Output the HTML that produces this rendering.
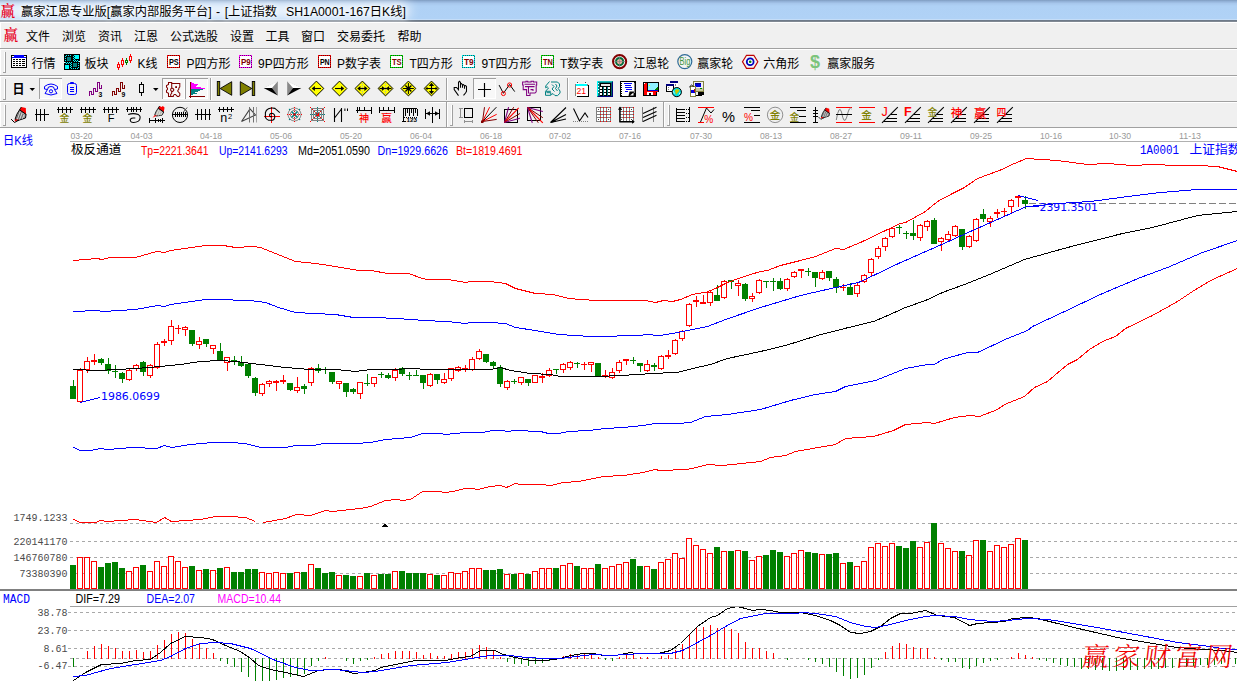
<!DOCTYPE html>
<html lang="zh-CN"><head><meta charset="utf-8"><title>赢家江恩专业版</title>
<style>
html,body{margin:0;padding:0;background:#fff}
body{width:1237px;height:681px;overflow:hidden;position:relative;font-family:"Liberation Sans","Noto Sans CJK SC",sans-serif;font-size:12px;color:#000}
#title{position:absolute;left:0;top:0;width:1237px;height:22px;overflow:hidden;background:linear-gradient(to bottom,#7f9cc0 0,#93b2d8 1.5px,#a7c7ec 3.5px,#afd1f5 6px,#b0d2f6 18.5px,#cfe3f8 20px,#5a6573 20.6px,#56616f 21.4px,#fff 21.8px,#fff 22px)}
#title .glow{position:absolute;left:-30px;top:2px;width:440px;height:17px;background:rgba(255,255,255,.78);filter:blur(6px);border-radius:9px}
#title .lg{position:absolute;left:0.5px;top:2.5px;font:14.5px/17px "Liberation Serif","Noto Serif CJK SC",serif;color:#e8001c;font-weight:600}
#title .tx{position:absolute;left:21px;top:0.6px;line-height:22px;font-size:12.25px;word-spacing:1.1px;white-space:pre;text-shadow:0 0 4px #fff,0 0 6px #fff}
#bars{position:absolute;left:0;top:23px;border-top:0;width:1237px;height:105px;background:#f0f0f0;border-left:1px solid #fff;box-sizing:border-box}
.sep{position:absolute;left:0;width:1237px;height:1px;background:#a0a0a0;border-bottom:1px solid #fff}
.t{position:absolute;white-space:nowrap;line-height:16px;height:16px}
#menu .lg{position:absolute;left:3.5px;top:26.5px;font:14.5px/17px "Liberation Serif","Noto Serif CJK SC",serif;color:#e8001c;font-weight:600}
#chart{position:absolute;left:0;top:128px}
#ic{position:absolute;left:0;top:0}
</style></head><body>
<div id="title"><div class="glow"></div><span class="lg">赢</span><span class="tx">赢家江恩专业版[赢家内部服务平台] - [上证指数  SH1A0001-167日K线]</span></div>
<div id="bars"></div>
<div class="sep" style="top:48px"></div><div class="sep" style="top:75px"></div><div class="sep" style="top:101px"></div><div class="sep" style="top:127px;border-bottom:0"></div>
<div id="menu"><span class="lg">赢</span>
<span class="t" style="left:26.0px;top:28.8px">文件</span>
<span class="t" style="left:62.0px;top:28.8px">浏览</span>
<span class="t" style="left:98.0px;top:28.8px">资讯</span>
<span class="t" style="left:134.0px;top:28.8px">江恩</span>
<span class="t" style="left:170.0px;top:28.8px">公式选股</span>
<span class="t" style="left:230.0px;top:28.8px">设置</span>
<span class="t" style="left:265.5px;top:28.8px">工具</span>
<span class="t" style="left:301.0px;top:28.8px">窗口</span>
<span class="t" style="left:337.0px;top:28.8px">交易委托</span>
<span class="t" style="left:397.5px;top:28.8px">帮助</span>
</div><div id="tb1">
<span class="t" style="left:31.5px;top:55.7px">行情</span>
<span class="t" style="left:84.5px;top:55.7px">板块</span>
<span class="t" style="left:137.5px;top:55.7px">K线</span>
<span class="t" style="left:186.5px;top:55.7px">P四方形</span>
<span class="t" style="left:258.0px;top:55.7px">9P四方形</span>
<span class="t" style="left:337.0px;top:55.7px">P数字表</span>
<span class="t" style="left:409.5px;top:55.7px">T四方形</span>
<span class="t" style="left:481.5px;top:55.7px">9T四方形</span>
<span class="t" style="left:560.0px;top:55.7px">T数字表</span>
<span class="t" style="left:633.2px;top:55.7px">江恩轮</span>
<span class="t" style="left:697.2px;top:55.7px">赢家轮</span>
<span class="t" style="left:763.2px;top:55.7px">六角形</span>
<span class="t" style="left:827.2px;top:55.7px">赢家服务</span>
</div>
<svg id="chart" width="1237" height="553" viewBox="0 128 1237 553" shape-rendering="crispEdges">
<rect x="70" y="141" width="1167" height="1" fill="#b0b0b0"/>
<g font-family="Liberation Sans,sans-serif" font-size="8.8" fill="#999" shape-rendering="auto">
<text x="70.5" y="139" textLength="22" lengthAdjust="spacingAndGlyphs">03-20</text>
<text x="130.5" y="139" textLength="22" lengthAdjust="spacingAndGlyphs">04-03</text>
<text x="200.0" y="139" textLength="22" lengthAdjust="spacingAndGlyphs">04-18</text>
<text x="270.0" y="139" textLength="22" lengthAdjust="spacingAndGlyphs">05-06</text>
<text x="340.0" y="139" textLength="22" lengthAdjust="spacingAndGlyphs">05-20</text>
<text x="410.0" y="139" textLength="22" lengthAdjust="spacingAndGlyphs">06-04</text>
<text x="480.0" y="139" textLength="22" lengthAdjust="spacingAndGlyphs">06-18</text>
<text x="549.0" y="139" textLength="22" lengthAdjust="spacingAndGlyphs">07-02</text>
<text x="619.0" y="139" textLength="22" lengthAdjust="spacingAndGlyphs">07-16</text>
<text x="690.0" y="139" textLength="22" lengthAdjust="spacingAndGlyphs">07-30</text>
<text x="760.0" y="139" textLength="22" lengthAdjust="spacingAndGlyphs">08-13</text>
<text x="830.0" y="139" textLength="22" lengthAdjust="spacingAndGlyphs">08-27</text>
<text x="900.0" y="139" textLength="22" lengthAdjust="spacingAndGlyphs">09-11</text>
<text x="970.0" y="139" textLength="22" lengthAdjust="spacingAndGlyphs">09-25</text>
<text x="1040.0" y="139" textLength="22" lengthAdjust="spacingAndGlyphs">10-16</text>
<text x="1109.0" y="139" textLength="22" lengthAdjust="spacingAndGlyphs">10-30</text>
<text x="1179.0" y="139" textLength="22" lengthAdjust="spacingAndGlyphs">11-13</text>
</g>
<line x1="70" y1="523.5" x2="1237" y2="523.5" stroke="#a8a8a8" stroke-dasharray="3 3"/>
<line x1="70" y1="541.5" x2="1237" y2="541.5" stroke="#a8a8a8" stroke-dasharray="3 3"/>
<line x1="70" y1="557.5" x2="1237" y2="557.5" stroke="#a8a8a8" stroke-dasharray="3 3"/>
<line x1="70" y1="573.5" x2="1237" y2="573.5" stroke="#a8a8a8" stroke-dasharray="3 3"/>
<line x1="68" y1="612.5" x2="1237" y2="612.5" stroke="#a8a8a8" stroke-dasharray="3 3"/>
<line x1="68" y1="630.5" x2="1237" y2="630.5" stroke="#a8a8a8" stroke-dasharray="3 3"/>
<line x1="68" y1="648.5" x2="1237" y2="648.5" stroke="#a8a8a8" stroke-dasharray="3 3"/>
<line x1="68" y1="666.5" x2="1237" y2="666.5" stroke="#a8a8a8" stroke-dasharray="3 3"/>
<line x1="70" y1="658.5" x2="1237" y2="658.5" stroke="#a8a8a8" stroke-dasharray="3 3"/>
<line x1="1029" y1="203.5" x2="1237" y2="203.5" stroke="#808080" stroke-dasharray="7 3"/>
<rect x="73" y="380" width="1" height="19" fill="#008000"/>
<rect x="70" y="386" width="6" height="13" fill="#008000"/>
<rect x="80" y="368" width="1" height="35" fill="#ff0000"/>
<rect x="77" y="370" width="6" height="32" fill="#fff"/>
<rect x="77.5" y="370.5" width="5" height="31" fill="none" stroke="#ff0000"/>
<rect x="87" y="357" width="1" height="16" fill="#ff0000"/>
<rect x="84" y="361" width="6" height="9" fill="#fff"/>
<rect x="84.5" y="361.5" width="5" height="8" fill="none" stroke="#ff0000"/>
<rect x="94" y="354" width="1" height="11" fill="#ff0000"/>
<rect x="91" y="360" width="6" height="2" fill="#ff0000"/>
<rect x="101" y="358" width="1" height="7" fill="#008000"/>
<rect x="98" y="359" width="6" height="4" fill="#008000"/>
<rect x="108" y="358" width="1" height="16" fill="#008000"/>
<rect x="105" y="364" width="6" height="7" fill="#008000"/>
<rect x="115" y="365" width="1" height="13" fill="#008000"/>
<rect x="112" y="371" width="6" height="1" fill="#008000"/>
<rect x="122" y="372" width="1" height="11" fill="#008000"/>
<rect x="119" y="373" width="6" height="6" fill="#008000"/>
<rect x="129" y="369" width="1" height="12" fill="#ff0000"/>
<rect x="126" y="370" width="6" height="10" fill="#fff"/>
<rect x="126.5" y="370.5" width="5" height="9" fill="none" stroke="#ff0000"/>
<rect x="136" y="364" width="1" height="7" fill="#ff0000"/>
<rect x="133" y="365" width="6" height="4" fill="#fff"/>
<rect x="133.5" y="365.5" width="5" height="3" fill="none" stroke="#ff0000"/>
<rect x="143" y="361" width="1" height="15" fill="#008000"/>
<rect x="140" y="362" width="6" height="10" fill="#008000"/>
<rect x="150" y="364" width="1" height="14" fill="#ff0000"/>
<rect x="147" y="365" width="6" height="11" fill="#fff"/>
<rect x="147.5" y="365.5" width="5" height="10" fill="none" stroke="#ff0000"/>
<rect x="157" y="342" width="1" height="27" fill="#ff0000"/>
<rect x="154" y="344" width="6" height="24" fill="#fff"/>
<rect x="154.5" y="344.5" width="5" height="23" fill="none" stroke="#ff0000"/>
<rect x="164" y="339" width="1" height="7" fill="#ff0000"/>
<rect x="161" y="341" width="6" height="2" fill="#ff0000"/>
<rect x="171" y="320" width="1" height="25" fill="#ff0000"/>
<rect x="168" y="326" width="6" height="15" fill="#fff"/>
<rect x="168.5" y="326.5" width="5" height="14" fill="none" stroke="#ff0000"/>
<rect x="178" y="325" width="1" height="9" fill="#ff0000"/>
<rect x="175" y="328" width="6" height="1" fill="#ff0000"/>
<rect x="185" y="326" width="1" height="10" fill="#ff0000"/>
<rect x="182" y="327" width="6" height="3" fill="#fff"/>
<rect x="182.5" y="327.5" width="5" height="2" fill="none" stroke="#ff0000"/>
<rect x="192" y="330" width="1" height="16" fill="#008000"/>
<rect x="189" y="330" width="6" height="14" fill="#008000"/>
<rect x="199" y="337" width="1" height="12" fill="#ff0000"/>
<rect x="196" y="341" width="6" height="4" fill="#fff"/>
<rect x="196.5" y="341.5" width="5" height="3" fill="none" stroke="#ff0000"/>
<rect x="206" y="339" width="1" height="8" fill="#008000"/>
<rect x="203" y="339" width="6" height="5" fill="#008000"/>
<rect x="213" y="345" width="1" height="9" fill="#ff0000"/>
<rect x="210" y="345" width="6" height="4" fill="#fff"/>
<rect x="210.5" y="345.5" width="5" height="3" fill="none" stroke="#ff0000"/>
<rect x="220" y="343" width="1" height="18" fill="#008000"/>
<rect x="217" y="351" width="6" height="10" fill="#008000"/>
<rect x="227" y="357" width="1" height="14" fill="#ff0000"/>
<rect x="224" y="357" width="6" height="6" fill="#fff"/>
<rect x="224.5" y="357.5" width="5" height="5" fill="none" stroke="#ff0000"/>
<rect x="234" y="356" width="1" height="9" fill="#008000"/>
<rect x="231" y="360" width="6" height="1" fill="#008000"/>
<rect x="241" y="356" width="1" height="11" fill="#008000"/>
<rect x="238" y="362" width="6" height="4" fill="#008000"/>
<rect x="248" y="363" width="1" height="15" fill="#008000"/>
<rect x="245" y="364" width="6" height="12" fill="#008000"/>
<rect x="255" y="377" width="1" height="19" fill="#008000"/>
<rect x="252" y="378" width="6" height="15" fill="#008000"/>
<rect x="262" y="383" width="1" height="13" fill="#ff0000"/>
<rect x="259" y="384" width="6" height="10" fill="#fff"/>
<rect x="259.5" y="384.5" width="5" height="9" fill="none" stroke="#ff0000"/>
<rect x="269" y="380" width="1" height="7" fill="#ff0000"/>
<rect x="266" y="381" width="6" height="3" fill="#fff"/>
<rect x="266.5" y="381.5" width="5" height="2" fill="none" stroke="#ff0000"/>
<rect x="276" y="380" width="1" height="11" fill="#ff0000"/>
<rect x="273" y="381" width="6" height="2" fill="#ff0000"/>
<rect x="283" y="375" width="1" height="9" fill="#ff0000"/>
<rect x="280" y="380" width="6" height="2" fill="#ff0000"/>
<rect x="290" y="383" width="1" height="8" fill="#008000"/>
<rect x="287" y="383" width="6" height="7" fill="#008000"/>
<rect x="297" y="377" width="1" height="16" fill="#ff0000"/>
<rect x="294" y="387" width="6" height="4" fill="#fff"/>
<rect x="294.5" y="387.5" width="5" height="3" fill="none" stroke="#ff0000"/>
<rect x="304" y="384" width="1" height="10" fill="#008000"/>
<rect x="301" y="386" width="6" height="3" fill="#008000"/>
<rect x="311" y="367" width="1" height="19" fill="#ff0000"/>
<rect x="308" y="368" width="6" height="15" fill="#fff"/>
<rect x="308.5" y="368.5" width="5" height="14" fill="none" stroke="#ff0000"/>
<rect x="318" y="364" width="1" height="9" fill="#008000"/>
<rect x="315" y="368" width="6" height="3" fill="#008000"/>
<rect x="325" y="367" width="1" height="7" fill="#008000"/>
<rect x="322" y="369" width="6" height="1" fill="#008000"/>
<rect x="332" y="372" width="1" height="12" fill="#008000"/>
<rect x="329" y="372" width="6" height="10" fill="#008000"/>
<rect x="339" y="381" width="1" height="8" fill="#ff0000"/>
<rect x="336" y="381" width="6" height="3" fill="#fff"/>
<rect x="336.5" y="381.5" width="5" height="2" fill="none" stroke="#ff0000"/>
<rect x="346" y="383" width="1" height="14" fill="#008000"/>
<rect x="343" y="383" width="6" height="9" fill="#008000"/>
<rect x="353" y="388" width="1" height="6" fill="#008000"/>
<rect x="350" y="389" width="6" height="3" fill="#008000"/>
<rect x="360" y="382" width="1" height="17" fill="#ff0000"/>
<rect x="357" y="382" width="6" height="12" fill="#fff"/>
<rect x="357.5" y="382.5" width="5" height="11" fill="none" stroke="#ff0000"/>
<rect x="367" y="374" width="1" height="12" fill="#008000"/>
<rect x="364" y="383" width="6" height="1" fill="#008000"/>
<rect x="374" y="377" width="1" height="10" fill="#ff0000"/>
<rect x="371" y="377" width="6" height="7" fill="#fff"/>
<rect x="371.5" y="377.5" width="5" height="6" fill="none" stroke="#ff0000"/>
<rect x="381" y="372" width="1" height="6" fill="#008000"/>
<rect x="378" y="374" width="6" height="1" fill="#008000"/>
<rect x="388" y="373" width="1" height="6" fill="#008000"/>
<rect x="385" y="375" width="6" height="3" fill="#008000"/>
<rect x="395" y="368" width="1" height="13" fill="#ff0000"/>
<rect x="392" y="370" width="6" height="8" fill="#fff"/>
<rect x="392.5" y="370.5" width="5" height="7" fill="none" stroke="#ff0000"/>
<rect x="402" y="367" width="1" height="9" fill="#008000"/>
<rect x="399" y="368" width="6" height="6" fill="#008000"/>
<rect x="409" y="372" width="1" height="8" fill="#008000"/>
<rect x="406" y="375" width="6" height="1" fill="#008000"/>
<rect x="416" y="370" width="1" height="6" fill="#008000"/>
<rect x="413" y="375" width="6" height="1" fill="#008000"/>
<rect x="423" y="375" width="1" height="14" fill="#008000"/>
<rect x="420" y="375" width="6" height="8" fill="#008000"/>
<rect x="430" y="373" width="1" height="14" fill="#ff0000"/>
<rect x="427" y="374" width="6" height="12" fill="#fff"/>
<rect x="427.5" y="374.5" width="5" height="11" fill="none" stroke="#ff0000"/>
<rect x="437" y="374" width="1" height="10" fill="#008000"/>
<rect x="434" y="374" width="6" height="6" fill="#008000"/>
<rect x="444" y="373" width="1" height="11" fill="#ff0000"/>
<rect x="441" y="379" width="6" height="4" fill="#fff"/>
<rect x="441.5" y="379.5" width="5" height="3" fill="none" stroke="#ff0000"/>
<rect x="451" y="368" width="1" height="13" fill="#ff0000"/>
<rect x="448" y="368" width="6" height="11" fill="#fff"/>
<rect x="448.5" y="368.5" width="5" height="10" fill="none" stroke="#ff0000"/>
<rect x="458" y="366" width="1" height="6" fill="#ff0000"/>
<rect x="455" y="367" width="6" height="4" fill="#fff"/>
<rect x="455.5" y="367.5" width="5" height="3" fill="none" stroke="#ff0000"/>
<rect x="465" y="365" width="1" height="7" fill="#ff0000"/>
<rect x="462" y="368" width="6" height="1" fill="#ff0000"/>
<rect x="472" y="357" width="1" height="14" fill="#ff0000"/>
<rect x="469" y="359" width="6" height="11" fill="#fff"/>
<rect x="469.5" y="359.5" width="5" height="10" fill="none" stroke="#ff0000"/>
<rect x="479" y="349" width="1" height="11" fill="#ff0000"/>
<rect x="476" y="351" width="6" height="8" fill="#fff"/>
<rect x="476.5" y="351.5" width="5" height="7" fill="none" stroke="#ff0000"/>
<rect x="486" y="354" width="1" height="9" fill="#008000"/>
<rect x="483" y="354" width="6" height="8" fill="#008000"/>
<rect x="493" y="361" width="1" height="8" fill="#008000"/>
<rect x="490" y="362" width="6" height="4" fill="#008000"/>
<rect x="500" y="365" width="1" height="22" fill="#008000"/>
<rect x="497" y="367" width="6" height="17" fill="#008000"/>
<rect x="507" y="380" width="1" height="10" fill="#ff0000"/>
<rect x="504" y="381" width="6" height="7" fill="#fff"/>
<rect x="504.5" y="381.5" width="5" height="6" fill="none" stroke="#ff0000"/>
<rect x="514" y="379" width="1" height="5" fill="#008000"/>
<rect x="511" y="381" width="6" height="1" fill="#008000"/>
<rect x="521" y="377" width="1" height="8" fill="#ff0000"/>
<rect x="518" y="377" width="6" height="6" fill="#fff"/>
<rect x="518.5" y="377.5" width="5" height="5" fill="none" stroke="#ff0000"/>
<rect x="528" y="379" width="1" height="7" fill="#008000"/>
<rect x="525" y="379" width="6" height="4" fill="#008000"/>
<rect x="535" y="375" width="1" height="8" fill="#ff0000"/>
<rect x="532" y="375" width="6" height="8" fill="#fff"/>
<rect x="532.5" y="375.5" width="5" height="7" fill="none" stroke="#ff0000"/>
<rect x="542" y="373" width="1" height="10" fill="#ff0000"/>
<rect x="539" y="376" width="6" height="2" fill="#ff0000"/>
<rect x="549" y="368" width="1" height="9" fill="#ff0000"/>
<rect x="546" y="370" width="6" height="6" fill="#fff"/>
<rect x="546.5" y="370.5" width="5" height="5" fill="none" stroke="#ff0000"/>
<rect x="556" y="369" width="1" height="5" fill="#008000"/>
<rect x="553" y="369" width="6" height="1" fill="#008000"/>
<rect x="563" y="363" width="1" height="10" fill="#ff0000"/>
<rect x="560" y="364" width="6" height="6" fill="#fff"/>
<rect x="560.5" y="364.5" width="5" height="5" fill="none" stroke="#ff0000"/>
<rect x="570" y="361" width="1" height="9" fill="#ff0000"/>
<rect x="567" y="362" width="6" height="6" fill="#fff"/>
<rect x="567.5" y="362.5" width="5" height="5" fill="none" stroke="#ff0000"/>
<rect x="577" y="362" width="1" height="6" fill="#008000"/>
<rect x="574" y="363" width="6" height="1" fill="#008000"/>
<rect x="584" y="362" width="1" height="8" fill="#ff0000"/>
<rect x="581" y="364" width="6" height="1" fill="#ff0000"/>
<rect x="591" y="362" width="1" height="10" fill="#ff0000"/>
<rect x="588" y="362" width="6" height="3" fill="#fff"/>
<rect x="588.5" y="362.5" width="5" height="2" fill="none" stroke="#ff0000"/>
<rect x="598" y="363" width="1" height="13" fill="#008000"/>
<rect x="595" y="363" width="6" height="13" fill="#008000"/>
<rect x="605" y="370" width="1" height="8" fill="#ff0000"/>
<rect x="602" y="375" width="6" height="1" fill="#ff0000"/>
<rect x="612" y="368" width="1" height="11" fill="#ff0000"/>
<rect x="609" y="372" width="6" height="6" fill="#fff"/>
<rect x="609.5" y="372.5" width="5" height="5" fill="none" stroke="#ff0000"/>
<rect x="619" y="360" width="1" height="13" fill="#ff0000"/>
<rect x="616" y="362" width="6" height="9" fill="#fff"/>
<rect x="616.5" y="362.5" width="5" height="8" fill="none" stroke="#ff0000"/>
<rect x="626" y="359" width="1" height="6" fill="#ff0000"/>
<rect x="623" y="359" width="6" height="2" fill="#ff0000"/>
<rect x="633" y="357" width="1" height="7" fill="#008000"/>
<rect x="630" y="360" width="6" height="1" fill="#008000"/>
<rect x="640" y="363" width="1" height="9" fill="#008000"/>
<rect x="637" y="363" width="6" height="3" fill="#008000"/>
<rect x="647" y="360" width="1" height="12" fill="#ff0000"/>
<rect x="644" y="364" width="6" height="7" fill="#fff"/>
<rect x="644.5" y="364.5" width="5" height="6" fill="none" stroke="#ff0000"/>
<rect x="654" y="363" width="1" height="8" fill="#008000"/>
<rect x="651" y="365" width="6" height="2" fill="#008000"/>
<rect x="661" y="355" width="1" height="15" fill="#ff0000"/>
<rect x="658" y="356" width="6" height="13" fill="#fff"/>
<rect x="658.5" y="356.5" width="5" height="12" fill="none" stroke="#ff0000"/>
<rect x="668" y="350" width="1" height="9" fill="#ff0000"/>
<rect x="665" y="355" width="6" height="2" fill="#ff0000"/>
<rect x="675" y="339" width="1" height="16" fill="#ff0000"/>
<rect x="672" y="340" width="6" height="14" fill="#fff"/>
<rect x="672.5" y="340.5" width="5" height="13" fill="none" stroke="#ff0000"/>
<rect x="682" y="330" width="1" height="11" fill="#ff0000"/>
<rect x="679" y="331" width="6" height="8" fill="#fff"/>
<rect x="679.5" y="331.5" width="5" height="7" fill="none" stroke="#ff0000"/>
<rect x="689" y="303" width="1" height="24" fill="#ff0000"/>
<rect x="686" y="304" width="6" height="22" fill="#fff"/>
<rect x="686.5" y="304.5" width="5" height="21" fill="none" stroke="#ff0000"/>
<rect x="696" y="296" width="1" height="11" fill="#ff0000"/>
<rect x="693" y="300" width="6" height="2" fill="#ff0000"/>
<rect x="703" y="295" width="1" height="9" fill="#ff0000"/>
<rect x="700" y="302" width="6" height="2" fill="#ff0000"/>
<rect x="710" y="290" width="1" height="16" fill="#ff0000"/>
<rect x="707" y="292" width="6" height="11" fill="#fff"/>
<rect x="707.5" y="292.5" width="5" height="10" fill="none" stroke="#ff0000"/>
<rect x="717" y="285" width="1" height="16" fill="#008000"/>
<rect x="714" y="295" width="6" height="6" fill="#008000"/>
<rect x="724" y="280" width="1" height="19" fill="#ff0000"/>
<rect x="721" y="281" width="6" height="17" fill="#fff"/>
<rect x="721.5" y="281.5" width="5" height="16" fill="none" stroke="#ff0000"/>
<rect x="731" y="280" width="1" height="9" fill="#008000"/>
<rect x="728" y="280" width="6" height="2" fill="#008000"/>
<rect x="738" y="280" width="1" height="16" fill="#ff0000"/>
<rect x="735" y="283" width="6" height="3" fill="#fff"/>
<rect x="735.5" y="283.5" width="5" height="2" fill="none" stroke="#ff0000"/>
<rect x="745" y="283" width="1" height="18" fill="#008000"/>
<rect x="742" y="284" width="6" height="15" fill="#008000"/>
<rect x="752" y="293" width="1" height="9" fill="#ff0000"/>
<rect x="749" y="296" width="6" height="3" fill="#fff"/>
<rect x="749.5" y="296.5" width="5" height="2" fill="none" stroke="#ff0000"/>
<rect x="759" y="279" width="1" height="15" fill="#ff0000"/>
<rect x="756" y="280" width="6" height="13" fill="#fff"/>
<rect x="756.5" y="280.5" width="5" height="12" fill="none" stroke="#ff0000"/>
<rect x="766" y="281" width="1" height="7" fill="#008000"/>
<rect x="763" y="281" width="6" height="1" fill="#008000"/>
<rect x="773" y="278" width="1" height="13" fill="#008000"/>
<rect x="770" y="281" width="6" height="1" fill="#008000"/>
<rect x="780" y="278" width="1" height="12" fill="#008000"/>
<rect x="777" y="281" width="6" height="8" fill="#008000"/>
<rect x="787" y="278" width="1" height="13" fill="#ff0000"/>
<rect x="784" y="279" width="6" height="10" fill="#fff"/>
<rect x="784.5" y="279.5" width="5" height="9" fill="none" stroke="#ff0000"/>
<rect x="794" y="271" width="1" height="7" fill="#ff0000"/>
<rect x="791" y="272" width="6" height="5" fill="#fff"/>
<rect x="791.5" y="272.5" width="5" height="4" fill="none" stroke="#ff0000"/>
<rect x="801" y="269" width="1" height="9" fill="#ff0000"/>
<rect x="798" y="269" width="6" height="2" fill="#ff0000"/>
<rect x="808" y="268" width="1" height="8" fill="#008000"/>
<rect x="805" y="271" width="6" height="1" fill="#008000"/>
<rect x="815" y="272" width="1" height="15" fill="#008000"/>
<rect x="812" y="272" width="6" height="6" fill="#008000"/>
<rect x="822" y="270" width="1" height="10" fill="#ff0000"/>
<rect x="819" y="272" width="6" height="7" fill="#fff"/>
<rect x="819.5" y="272.5" width="5" height="6" fill="none" stroke="#ff0000"/>
<rect x="829" y="271" width="1" height="10" fill="#008000"/>
<rect x="826" y="271" width="6" height="7" fill="#008000"/>
<rect x="836" y="277" width="1" height="16" fill="#008000"/>
<rect x="833" y="279" width="6" height="9" fill="#008000"/>
<rect x="843" y="284" width="1" height="7" fill="#ff0000"/>
<rect x="840" y="287" width="6" height="1" fill="#ff0000"/>
<rect x="850" y="283" width="1" height="12" fill="#008000"/>
<rect x="847" y="287" width="6" height="8" fill="#008000"/>
<rect x="857" y="283" width="1" height="14" fill="#ff0000"/>
<rect x="854" y="285" width="6" height="9" fill="#fff"/>
<rect x="854.5" y="285.5" width="5" height="8" fill="none" stroke="#ff0000"/>
<rect x="864" y="274" width="1" height="9" fill="#ff0000"/>
<rect x="861" y="275" width="6" height="7" fill="#fff"/>
<rect x="861.5" y="275.5" width="5" height="6" fill="none" stroke="#ff0000"/>
<rect x="871" y="258" width="1" height="18" fill="#ff0000"/>
<rect x="868" y="259" width="6" height="14" fill="#fff"/>
<rect x="868.5" y="259.5" width="5" height="13" fill="none" stroke="#ff0000"/>
<rect x="878" y="246" width="1" height="13" fill="#ff0000"/>
<rect x="875" y="248" width="6" height="9" fill="#fff"/>
<rect x="875.5" y="248.5" width="5" height="8" fill="none" stroke="#ff0000"/>
<rect x="885" y="237" width="1" height="14" fill="#ff0000"/>
<rect x="882" y="238" width="6" height="9" fill="#fff"/>
<rect x="882.5" y="238.5" width="5" height="8" fill="none" stroke="#ff0000"/>
<rect x="892" y="227" width="1" height="11" fill="#ff0000"/>
<rect x="889" y="228" width="6" height="9" fill="#fff"/>
<rect x="889.5" y="228.5" width="5" height="8" fill="none" stroke="#ff0000"/>
<rect x="899" y="225" width="1" height="9" fill="#008000"/>
<rect x="896" y="227" width="6" height="1" fill="#008000"/>
<rect x="906" y="231" width="1" height="8" fill="#008000"/>
<rect x="903" y="233" width="6" height="1" fill="#008000"/>
<rect x="913" y="220" width="1" height="20" fill="#008000"/>
<rect x="910" y="233" width="6" height="3" fill="#008000"/>
<rect x="920" y="224" width="1" height="17" fill="#ff0000"/>
<rect x="917" y="225" width="6" height="13" fill="#fff"/>
<rect x="917.5" y="225.5" width="5" height="12" fill="none" stroke="#ff0000"/>
<rect x="927" y="220" width="1" height="11" fill="#ff0000"/>
<rect x="924" y="221" width="6" height="6" fill="#fff"/>
<rect x="924.5" y="221.5" width="5" height="5" fill="none" stroke="#ff0000"/>
<rect x="934" y="218" width="1" height="26" fill="#008000"/>
<rect x="931" y="220" width="6" height="24" fill="#008000"/>
<rect x="941" y="237" width="1" height="14" fill="#ff0000"/>
<rect x="938" y="238" width="6" height="4" fill="#fff"/>
<rect x="938.5" y="238.5" width="5" height="3" fill="none" stroke="#ff0000"/>
<rect x="948" y="231" width="1" height="11" fill="#ff0000"/>
<rect x="945" y="234" width="6" height="6" fill="#fff"/>
<rect x="945.5" y="234.5" width="5" height="5" fill="none" stroke="#ff0000"/>
<rect x="955" y="225" width="1" height="12" fill="#ff0000"/>
<rect x="952" y="226" width="6" height="10" fill="#fff"/>
<rect x="952.5" y="226.5" width="5" height="9" fill="none" stroke="#ff0000"/>
<rect x="962" y="229" width="1" height="21" fill="#008000"/>
<rect x="959" y="229" width="6" height="18" fill="#008000"/>
<rect x="969" y="235" width="1" height="13" fill="#ff0000"/>
<rect x="966" y="236" width="6" height="11" fill="#fff"/>
<rect x="966.5" y="236.5" width="5" height="10" fill="none" stroke="#ff0000"/>
<rect x="976" y="218" width="1" height="24" fill="#ff0000"/>
<rect x="973" y="219" width="6" height="22" fill="#fff"/>
<rect x="973.5" y="219.5" width="5" height="21" fill="none" stroke="#ff0000"/>
<rect x="983" y="209" width="1" height="13" fill="#008000"/>
<rect x="980" y="214" width="6" height="5" fill="#008000"/>
<rect x="990" y="216" width="1" height="11" fill="#ff0000"/>
<rect x="987" y="218" width="6" height="4" fill="#fff"/>
<rect x="987.5" y="218.5" width="5" height="3" fill="none" stroke="#ff0000"/>
<rect x="997" y="209" width="1" height="9" fill="#ff0000"/>
<rect x="994" y="212" width="6" height="2" fill="#ff0000"/>
<rect x="1004" y="208" width="1" height="8" fill="#ff0000"/>
<rect x="1001" y="211" width="6" height="1" fill="#ff0000"/>
<rect x="1011" y="199" width="1" height="15" fill="#ff0000"/>
<rect x="1008" y="200" width="6" height="7" fill="#fff"/>
<rect x="1008.5" y="200.5" width="5" height="6" fill="none" stroke="#ff0000"/>
<rect x="1018" y="196" width="1" height="11" fill="#ff0000"/>
<rect x="1015" y="196" width="6" height="2" fill="#ff0000"/>
<rect x="1025" y="196" width="1" height="13" fill="#008000"/>
<rect x="1022" y="200" width="6" height="4" fill="#008000"/>
<rect x="70" y="565" width="6" height="24" fill="#008000"/>
<rect x="77.5" y="557.5" width="5" height="31" fill="#fff" stroke="#ff0000"/>
<rect x="84.5" y="557.5" width="5" height="31" fill="#fff" stroke="#ff0000"/>
<rect x="91.5" y="561.5" width="5" height="27" fill="#fff" stroke="#ff0000"/>
<rect x="98" y="567" width="6" height="22" fill="#008000"/>
<rect x="105" y="563" width="6" height="26" fill="#008000"/>
<rect x="112" y="562" width="6" height="27" fill="#008000"/>
<rect x="119" y="568" width="6" height="21" fill="#008000"/>
<rect x="126.5" y="571.5" width="5" height="17" fill="#fff" stroke="#ff0000"/>
<rect x="133.5" y="567.5" width="5" height="21" fill="#fff" stroke="#ff0000"/>
<rect x="140" y="565" width="6" height="24" fill="#008000"/>
<rect x="147.5" y="571.5" width="5" height="17" fill="#fff" stroke="#ff0000"/>
<rect x="154.5" y="561.5" width="5" height="27" fill="#fff" stroke="#ff0000"/>
<rect x="161.5" y="566.5" width="5" height="22" fill="#fff" stroke="#ff0000"/>
<rect x="168.5" y="556.5" width="5" height="32" fill="#fff" stroke="#ff0000"/>
<rect x="175.5" y="561.5" width="5" height="27" fill="#fff" stroke="#ff0000"/>
<rect x="182.5" y="567.5" width="5" height="21" fill="#fff" stroke="#ff0000"/>
<rect x="189" y="566" width="6" height="23" fill="#008000"/>
<rect x="196.5" y="570.5" width="5" height="18" fill="#fff" stroke="#ff0000"/>
<rect x="203" y="569" width="6" height="20" fill="#008000"/>
<rect x="210.5" y="570.5" width="5" height="18" fill="#fff" stroke="#ff0000"/>
<rect x="217" y="568" width="6" height="21" fill="#008000"/>
<rect x="224.5" y="567.5" width="5" height="21" fill="#fff" stroke="#ff0000"/>
<rect x="231" y="572" width="6" height="17" fill="#008000"/>
<rect x="238" y="572" width="6" height="17" fill="#008000"/>
<rect x="245" y="569" width="6" height="20" fill="#008000"/>
<rect x="252" y="569" width="6" height="20" fill="#008000"/>
<rect x="259.5" y="572.5" width="5" height="16" fill="#fff" stroke="#ff0000"/>
<rect x="266.5" y="573.5" width="5" height="15" fill="#fff" stroke="#ff0000"/>
<rect x="273.5" y="572.5" width="5" height="16" fill="#fff" stroke="#ff0000"/>
<rect x="280.5" y="573.5" width="5" height="15" fill="#fff" stroke="#ff0000"/>
<rect x="287" y="573" width="6" height="16" fill="#008000"/>
<rect x="294.5" y="572.5" width="5" height="16" fill="#fff" stroke="#ff0000"/>
<rect x="301" y="572" width="6" height="17" fill="#008000"/>
<rect x="308.5" y="564.5" width="5" height="24" fill="#fff" stroke="#ff0000"/>
<rect x="315" y="568" width="6" height="21" fill="#008000"/>
<rect x="322" y="573" width="6" height="16" fill="#008000"/>
<rect x="329" y="572" width="6" height="17" fill="#008000"/>
<rect x="336.5" y="575.5" width="5" height="13" fill="#fff" stroke="#ff0000"/>
<rect x="343" y="575" width="6" height="14" fill="#008000"/>
<rect x="350" y="576" width="6" height="13" fill="#008000"/>
<rect x="357.5" y="576.5" width="5" height="12" fill="#fff" stroke="#ff0000"/>
<rect x="364" y="573" width="6" height="16" fill="#008000"/>
<rect x="371.5" y="575.5" width="5" height="13" fill="#fff" stroke="#ff0000"/>
<rect x="378" y="574" width="6" height="15" fill="#008000"/>
<rect x="385" y="574" width="6" height="15" fill="#008000"/>
<rect x="392.5" y="571.5" width="5" height="17" fill="#fff" stroke="#ff0000"/>
<rect x="399" y="571" width="6" height="18" fill="#008000"/>
<rect x="406" y="573" width="6" height="16" fill="#008000"/>
<rect x="413" y="573" width="6" height="16" fill="#008000"/>
<rect x="420" y="573" width="6" height="16" fill="#008000"/>
<rect x="427.5" y="574.5" width="5" height="14" fill="#fff" stroke="#ff0000"/>
<rect x="434" y="575" width="6" height="14" fill="#008000"/>
<rect x="441.5" y="575.5" width="5" height="13" fill="#fff" stroke="#ff0000"/>
<rect x="448.5" y="572.5" width="5" height="16" fill="#fff" stroke="#ff0000"/>
<rect x="455.5" y="573.5" width="5" height="15" fill="#fff" stroke="#ff0000"/>
<rect x="462.5" y="571.5" width="5" height="17" fill="#fff" stroke="#ff0000"/>
<rect x="469.5" y="568.5" width="5" height="20" fill="#fff" stroke="#ff0000"/>
<rect x="476.5" y="568.5" width="5" height="20" fill="#fff" stroke="#ff0000"/>
<rect x="483" y="570" width="6" height="19" fill="#008000"/>
<rect x="490" y="570" width="6" height="19" fill="#008000"/>
<rect x="497" y="569" width="6" height="20" fill="#008000"/>
<rect x="504.5" y="574.5" width="5" height="14" fill="#fff" stroke="#ff0000"/>
<rect x="511" y="574" width="6" height="15" fill="#008000"/>
<rect x="518.5" y="573.5" width="5" height="15" fill="#fff" stroke="#ff0000"/>
<rect x="525" y="574" width="6" height="15" fill="#008000"/>
<rect x="532.5" y="571.5" width="5" height="17" fill="#fff" stroke="#ff0000"/>
<rect x="539.5" y="568.5" width="5" height="20" fill="#fff" stroke="#ff0000"/>
<rect x="546.5" y="568.5" width="5" height="20" fill="#fff" stroke="#ff0000"/>
<rect x="553" y="568" width="6" height="21" fill="#008000"/>
<rect x="560.5" y="565.5" width="5" height="23" fill="#fff" stroke="#ff0000"/>
<rect x="567.5" y="563.5" width="5" height="25" fill="#fff" stroke="#ff0000"/>
<rect x="574" y="566" width="6" height="23" fill="#008000"/>
<rect x="581.5" y="568.5" width="5" height="20" fill="#fff" stroke="#ff0000"/>
<rect x="588.5" y="568.5" width="5" height="20" fill="#fff" stroke="#ff0000"/>
<rect x="595" y="564" width="6" height="25" fill="#008000"/>
<rect x="602.5" y="568.5" width="5" height="20" fill="#fff" stroke="#ff0000"/>
<rect x="609.5" y="566.5" width="5" height="22" fill="#fff" stroke="#ff0000"/>
<rect x="616.5" y="564.5" width="5" height="24" fill="#fff" stroke="#ff0000"/>
<rect x="623.5" y="562.5" width="5" height="26" fill="#fff" stroke="#ff0000"/>
<rect x="630" y="559" width="6" height="30" fill="#008000"/>
<rect x="637" y="566" width="6" height="23" fill="#008000"/>
<rect x="644.5" y="566.5" width="5" height="22" fill="#fff" stroke="#ff0000"/>
<rect x="651" y="569" width="6" height="20" fill="#008000"/>
<rect x="658.5" y="562.5" width="5" height="26" fill="#fff" stroke="#ff0000"/>
<rect x="665.5" y="559.5" width="5" height="29" fill="#fff" stroke="#ff0000"/>
<rect x="672.5" y="553.5" width="5" height="35" fill="#fff" stroke="#ff0000"/>
<rect x="679.5" y="558.5" width="5" height="30" fill="#fff" stroke="#ff0000"/>
<rect x="686.5" y="538.5" width="5" height="50" fill="#fff" stroke="#ff0000"/>
<rect x="693.5" y="545.5" width="5" height="43" fill="#fff" stroke="#ff0000"/>
<rect x="700.5" y="549.5" width="5" height="39" fill="#fff" stroke="#ff0000"/>
<rect x="707.5" y="553.5" width="5" height="35" fill="#fff" stroke="#ff0000"/>
<rect x="714" y="547" width="6" height="42" fill="#008000"/>
<rect x="721.5" y="551.5" width="5" height="37" fill="#fff" stroke="#ff0000"/>
<rect x="728" y="551" width="6" height="38" fill="#008000"/>
<rect x="735.5" y="550.5" width="5" height="38" fill="#fff" stroke="#ff0000"/>
<rect x="742" y="551" width="6" height="38" fill="#008000"/>
<rect x="749.5" y="560.5" width="5" height="28" fill="#fff" stroke="#ff0000"/>
<rect x="756.5" y="556.5" width="5" height="32" fill="#fff" stroke="#ff0000"/>
<rect x="763" y="555" width="6" height="34" fill="#008000"/>
<rect x="770" y="550" width="6" height="39" fill="#008000"/>
<rect x="777" y="552" width="6" height="37" fill="#008000"/>
<rect x="784.5" y="556.5" width="5" height="32" fill="#fff" stroke="#ff0000"/>
<rect x="791.5" y="553.5" width="5" height="35" fill="#fff" stroke="#ff0000"/>
<rect x="798.5" y="550.5" width="5" height="38" fill="#fff" stroke="#ff0000"/>
<rect x="805" y="552" width="6" height="37" fill="#008000"/>
<rect x="812" y="553" width="6" height="36" fill="#008000"/>
<rect x="819.5" y="554.5" width="5" height="34" fill="#fff" stroke="#ff0000"/>
<rect x="826" y="554" width="6" height="35" fill="#008000"/>
<rect x="833" y="553" width="6" height="36" fill="#008000"/>
<rect x="840.5" y="563.5" width="5" height="25" fill="#fff" stroke="#ff0000"/>
<rect x="847" y="562" width="6" height="27" fill="#008000"/>
<rect x="854.5" y="566.5" width="5" height="22" fill="#fff" stroke="#ff0000"/>
<rect x="861.5" y="561.5" width="5" height="27" fill="#fff" stroke="#ff0000"/>
<rect x="868.5" y="547.5" width="5" height="41" fill="#fff" stroke="#ff0000"/>
<rect x="875.5" y="543.5" width="5" height="45" fill="#fff" stroke="#ff0000"/>
<rect x="882.5" y="546.5" width="5" height="42" fill="#fff" stroke="#ff0000"/>
<rect x="889.5" y="543.5" width="5" height="45" fill="#fff" stroke="#ff0000"/>
<rect x="896" y="546" width="6" height="43" fill="#008000"/>
<rect x="903" y="548" width="6" height="41" fill="#008000"/>
<rect x="910" y="541" width="6" height="48" fill="#008000"/>
<rect x="917.5" y="547.5" width="5" height="41" fill="#fff" stroke="#ff0000"/>
<rect x="924.5" y="542.5" width="5" height="46" fill="#fff" stroke="#ff0000"/>
<rect x="931" y="523" width="6" height="66" fill="#008000"/>
<rect x="938.5" y="543.5" width="5" height="45" fill="#fff" stroke="#ff0000"/>
<rect x="945.5" y="548.5" width="5" height="40" fill="#fff" stroke="#ff0000"/>
<rect x="952.5" y="551.5" width="5" height="37" fill="#fff" stroke="#ff0000"/>
<rect x="959" y="551" width="6" height="38" fill="#008000"/>
<rect x="966.5" y="555.5" width="5" height="33" fill="#fff" stroke="#ff0000"/>
<rect x="973.5" y="540.5" width="5" height="48" fill="#fff" stroke="#ff0000"/>
<rect x="980" y="540" width="6" height="49" fill="#008000"/>
<rect x="987.5" y="551.5" width="5" height="37" fill="#fff" stroke="#ff0000"/>
<rect x="994.5" y="545.5" width="5" height="43" fill="#fff" stroke="#ff0000"/>
<rect x="1001.5" y="547.5" width="5" height="41" fill="#fff" stroke="#ff0000"/>
<rect x="1008.5" y="544.5" width="5" height="44" fill="#fff" stroke="#ff0000"/>
<rect x="1015.5" y="538.5" width="5" height="50" fill="#fff" stroke="#ff0000"/>
<rect x="1022" y="540" width="6" height="49" fill="#008000"/>
<rect x="73" y="658" width="1" height="9" fill="#008000"/>
<rect x="87" y="651" width="1" height="8" fill="#ff0000"/>
<rect x="94" y="646" width="1" height="13" fill="#ff0000"/>
<rect x="101" y="644" width="1" height="15" fill="#ff0000"/>
<rect x="108" y="646" width="1" height="13" fill="#ff0000"/>
<rect x="115" y="648" width="1" height="11" fill="#ff0000"/>
<rect x="122" y="651" width="1" height="8" fill="#ff0000"/>
<rect x="129" y="651" width="1" height="8" fill="#ff0000"/>
<rect x="136" y="650" width="1" height="9" fill="#ff0000"/>
<rect x="143" y="652" width="1" height="7" fill="#ff0000"/>
<rect x="150" y="651" width="1" height="8" fill="#ff0000"/>
<rect x="157" y="645" width="1" height="14" fill="#ff0000"/>
<rect x="164" y="640" width="1" height="19" fill="#ff0000"/>
<rect x="171" y="634" width="1" height="25" fill="#ff0000"/>
<rect x="178" y="632" width="1" height="27" fill="#ff0000"/>
<rect x="185" y="633" width="1" height="26" fill="#ff0000"/>
<rect x="192" y="639" width="1" height="20" fill="#ff0000"/>
<rect x="199" y="643" width="1" height="16" fill="#ff0000"/>
<rect x="206" y="648" width="1" height="11" fill="#ff0000"/>
<rect x="213" y="653" width="1" height="6" fill="#ff0000"/>
<rect x="220" y="658" width="1" height="3" fill="#008000"/>
<rect x="227" y="658" width="1" height="6" fill="#008000"/>
<rect x="234" y="658" width="1" height="9" fill="#008000"/>
<rect x="241" y="658" width="1" height="14" fill="#008000"/>
<rect x="248" y="658" width="1" height="19" fill="#008000"/>
<rect x="255" y="658" width="1" height="24" fill="#008000"/>
<rect x="262" y="658" width="1" height="24" fill="#008000"/>
<rect x="269" y="658" width="1" height="24" fill="#008000"/>
<rect x="276" y="658" width="1" height="22" fill="#008000"/>
<rect x="283" y="658" width="1" height="20" fill="#008000"/>
<rect x="290" y="658" width="1" height="19" fill="#008000"/>
<rect x="297" y="658" width="1" height="18" fill="#008000"/>
<rect x="304" y="658" width="1" height="16" fill="#008000"/>
<rect x="311" y="658" width="1" height="8" fill="#008000"/>
<rect x="318" y="658" width="1" height="3" fill="#008000"/>
<rect x="325" y="657" width="1" height="2" fill="#ff0000"/>
<rect x="346" y="658" width="1" height="3" fill="#008000"/>
<rect x="353" y="658" width="1" height="6" fill="#008000"/>
<rect x="360" y="658" width="1" height="3" fill="#008000"/>
<rect x="367" y="658" width="1" height="2" fill="#008000"/>
<rect x="374" y="657" width="1" height="2" fill="#ff0000"/>
<rect x="381" y="654" width="1" height="5" fill="#ff0000"/>
<rect x="388" y="653" width="1" height="6" fill="#ff0000"/>
<rect x="395" y="651" width="1" height="8" fill="#ff0000"/>
<rect x="402" y="651" width="1" height="8" fill="#ff0000"/>
<rect x="409" y="651" width="1" height="8" fill="#ff0000"/>
<rect x="416" y="652" width="1" height="7" fill="#ff0000"/>
<rect x="423" y="655" width="1" height="4" fill="#ff0000"/>
<rect x="430" y="653" width="1" height="6" fill="#ff0000"/>
<rect x="437" y="656" width="1" height="3" fill="#ff0000"/>
<rect x="444" y="656" width="1" height="3" fill="#ff0000"/>
<rect x="451" y="654" width="1" height="5" fill="#ff0000"/>
<rect x="458" y="652" width="1" height="7" fill="#ff0000"/>
<rect x="465" y="652" width="1" height="7" fill="#ff0000"/>
<rect x="472" y="649" width="1" height="10" fill="#ff0000"/>
<rect x="479" y="645" width="1" height="14" fill="#ff0000"/>
<rect x="486" y="647" width="1" height="12" fill="#ff0000"/>
<rect x="493" y="651" width="1" height="8" fill="#ff0000"/>
<rect x="500" y="657" width="1" height="2" fill="#ff0000"/>
<rect x="507" y="658" width="1" height="4" fill="#008000"/>
<rect x="514" y="658" width="1" height="6" fill="#008000"/>
<rect x="521" y="658" width="1" height="6" fill="#008000"/>
<rect x="528" y="658" width="1" height="8" fill="#008000"/>
<rect x="535" y="658" width="1" height="6" fill="#008000"/>
<rect x="542" y="658" width="1" height="5" fill="#008000"/>
<rect x="549" y="658" width="1" height="3" fill="#008000"/>
<rect x="563" y="656" width="1" height="3" fill="#ff0000"/>
<rect x="570" y="654" width="1" height="5" fill="#ff0000"/>
<rect x="577" y="654" width="1" height="5" fill="#ff0000"/>
<rect x="584" y="654" width="1" height="5" fill="#ff0000"/>
<rect x="591" y="653" width="1" height="6" fill="#ff0000"/>
<rect x="598" y="657" width="1" height="2" fill="#ff0000"/>
<rect x="605" y="658" width="1" height="2" fill="#008000"/>
<rect x="612" y="658" width="1" height="3" fill="#008000"/>
<rect x="619" y="657" width="1" height="2" fill="#ff0000"/>
<rect x="626" y="655" width="1" height="4" fill="#ff0000"/>
<rect x="633" y="655" width="1" height="4" fill="#ff0000"/>
<rect x="640" y="657" width="1" height="2" fill="#ff0000"/>
<rect x="647" y="657" width="1" height="2" fill="#ff0000"/>
<rect x="661" y="656" width="1" height="3" fill="#ff0000"/>
<rect x="668" y="655" width="1" height="4" fill="#ff0000"/>
<rect x="675" y="650" width="1" height="9" fill="#ff0000"/>
<rect x="682" y="644" width="1" height="15" fill="#ff0000"/>
<rect x="689" y="634" width="1" height="25" fill="#ff0000"/>
<rect x="696" y="628" width="1" height="31" fill="#ff0000"/>
<rect x="703" y="627" width="1" height="32" fill="#ff0000"/>
<rect x="710" y="625" width="1" height="34" fill="#ff0000"/>
<rect x="717" y="628" width="1" height="31" fill="#ff0000"/>
<rect x="724" y="627" width="1" height="32" fill="#ff0000"/>
<rect x="731" y="629" width="1" height="30" fill="#ff0000"/>
<rect x="738" y="633" width="1" height="26" fill="#ff0000"/>
<rect x="745" y="642" width="1" height="17" fill="#ff0000"/>
<rect x="752" y="648" width="1" height="11" fill="#ff0000"/>
<rect x="759" y="648" width="1" height="11" fill="#ff0000"/>
<rect x="766" y="651" width="1" height="8" fill="#ff0000"/>
<rect x="773" y="653" width="1" height="6" fill="#ff0000"/>
<rect x="787" y="658" width="1" height="2" fill="#008000"/>
<rect x="808" y="658" width="1" height="2" fill="#008000"/>
<rect x="815" y="658" width="1" height="4" fill="#008000"/>
<rect x="822" y="658" width="1" height="6" fill="#008000"/>
<rect x="829" y="658" width="1" height="9" fill="#008000"/>
<rect x="836" y="658" width="1" height="14" fill="#008000"/>
<rect x="843" y="658" width="1" height="18" fill="#008000"/>
<rect x="850" y="658" width="1" height="21" fill="#008000"/>
<rect x="857" y="658" width="1" height="20" fill="#008000"/>
<rect x="864" y="658" width="1" height="17" fill="#008000"/>
<rect x="871" y="658" width="1" height="10" fill="#008000"/>
<rect x="878" y="658" width="1" height="2" fill="#008000"/>
<rect x="885" y="652" width="1" height="7" fill="#ff0000"/>
<rect x="892" y="646" width="1" height="13" fill="#ff0000"/>
<rect x="899" y="643" width="1" height="16" fill="#ff0000"/>
<rect x="906" y="644" width="1" height="15" fill="#ff0000"/>
<rect x="913" y="647" width="1" height="12" fill="#ff0000"/>
<rect x="920" y="648" width="1" height="11" fill="#ff0000"/>
<rect x="927" y="648" width="1" height="11" fill="#ff0000"/>
<rect x="934" y="657" width="1" height="2" fill="#ff0000"/>
<rect x="941" y="658" width="1" height="2" fill="#008000"/>
<rect x="948" y="658" width="1" height="4" fill="#008000"/>
<rect x="955" y="658" width="1" height="4" fill="#008000"/>
<rect x="962" y="658" width="1" height="10" fill="#008000"/>
<rect x="969" y="658" width="1" height="11" fill="#008000"/>
<rect x="976" y="658" width="1" height="8" fill="#008000"/>
<rect x="983" y="658" width="1" height="5" fill="#008000"/>
<rect x="990" y="658" width="1" height="3" fill="#008000"/>
<rect x="997" y="658" width="1" height="2" fill="#008000"/>
<rect x="1011" y="657" width="1" height="2" fill="#ff0000"/>
<rect x="1018" y="653" width="1" height="6" fill="#ff0000"/>
<rect x="1025" y="655" width="1" height="4" fill="#ff0000"/>
<rect x="1032" y="657" width="1" height="2" fill="#ff0000"/>
<rect x="1039" y="658" width="1" height="2" fill="#008000"/>
<rect x="1046" y="658" width="1" height="3" fill="#008000"/>
<rect x="1053" y="658" width="1" height="5" fill="#008000"/>
<rect x="1060" y="658" width="1" height="7" fill="#008000"/>
<rect x="1067" y="658" width="1" height="8" fill="#008000"/>
<rect x="1074" y="658" width="1" height="9" fill="#008000"/>
<rect x="1081" y="658" width="1" height="11" fill="#008000"/>
<rect x="1088" y="658" width="1" height="11" fill="#008000"/>
<rect x="1095" y="658" width="1" height="12" fill="#008000"/>
<rect x="1102" y="658" width="1" height="12" fill="#008000"/>
<rect x="1109" y="658" width="1" height="13" fill="#008000"/>
<rect x="1116" y="658" width="1" height="13" fill="#008000"/>
<rect x="1123" y="658" width="1" height="12" fill="#008000"/>
<rect x="1130" y="658" width="1" height="12" fill="#008000"/>
<rect x="1137" y="658" width="1" height="12" fill="#008000"/>
<rect x="1144" y="658" width="1" height="11" fill="#008000"/>
<rect x="1151" y="658" width="1" height="11" fill="#008000"/>
<rect x="1158" y="658" width="1" height="11" fill="#008000"/>
<rect x="1165" y="658" width="1" height="10" fill="#008000"/>
<rect x="1172" y="658" width="1" height="10" fill="#008000"/>
<rect x="1179" y="658" width="1" height="9" fill="#008000"/>
<rect x="1186" y="658" width="1" height="9" fill="#008000"/>
<rect x="1193" y="658" width="1" height="8" fill="#008000"/>
<rect x="1200" y="658" width="1" height="7" fill="#008000"/>
<rect x="1207" y="658" width="1" height="7" fill="#008000"/>
<rect x="1214" y="658" width="1" height="7" fill="#008000"/>
<rect x="1221" y="658" width="1" height="6" fill="#008000"/>
<rect x="1228" y="658" width="1" height="6" fill="#008000"/>
<rect x="1235" y="658" width="1" height="6" fill="#008000"/>
<polyline points="73.5,260.5 97.5,258.5 101.5,259.5 110.5,257.5 135.5,257.5 156.5,251.5 164.5,252.5 170.5,250.5 205.5,245.5 223.5,245.5 235.5,247.5 253.5,246.5 260.5,247.5 275.5,253.5 295.5,261.5 315.5,263.5 335.5,266.5 358.5,270.5 371.5,270.5 387.5,273.5 392.5,273.5 408.5,273.5 422.5,278.5 427.5,279.5 447.5,279.5 465.5,282.5 470.5,281.5 490.5,281.5 505.5,283.5 515.5,288.5 535.5,293.5 553.5,294.5 568.5,298.5 595.5,300.5 615.5,300.5 620.5,300.5 638.5,300.5 645.5,300.5 655.5,302.5 663.5,300.5 672.5,301.5 680.5,299.5 692.5,294.5 697.5,293.5 705.5,292.5 715.5,288.5 725.5,283.5 735.5,279.5 750.5,274.5 760.5,271.5 767.5,270.5 780.5,265.5 800.5,260.5 815.5,256.5 835.5,248.5 843.5,249.5 860.5,242.5 885.5,230.5 900.5,223.5 905.5,222.5 925.5,211.5 937.5,201.5 952.5,193.5 964.5,187.5 977.5,178.5 999.5,170.5 1014.5,163.5 1026.5,158.5 1057.5,160.5 1087.5,164.5 1107.5,163.5 1132.5,165.5 1152.5,164.5 1177.5,165.5 1197.5,165.5 1217.5,166.5 1237.5,171.5" fill="none" stroke="#ff0000" stroke-width="1"/>
<polyline points="73.5,519.5 80.5,522.5 95.5,522.5 100.5,520.5 107.5,521.5 135.5,519.5 156.5,522.5 164.5,517.5 171.5,521.5 200.5,519.5 215.5,516.5 230.5,516.5 245.5,517.5 255.5,521.5" fill="none" stroke="#ff0000" stroke-width="1"/>
<polyline points="263.5,522.5 285.5,518.5 296.5,514.5 310.5,515.5 325.5,510.5 332.5,511.5 350.5,509.5 360.5,508.5 370.5,506.5 385.5,500.5 397.5,499.5 402.5,500.5 410.5,499.5 422.5,491.5 437.5,491.5 445.5,492.5 452.5,491.5 465.5,488.5 472.5,488.5 477.5,489.5 490.5,486.5 500.5,485.5 506.5,487.5 515.5,483.5 520.5,484.5 540.5,484.5 550.5,485.5 563.5,482.5 578.5,481.5 603.5,476.5 623.5,475.5 643.5,472.5 654.5,469.5 660.5,470.5 685.5,469.5 692.5,468.5 707.5,464.5 722.5,465.5 760.5,461.5 770.5,457.5 785.5,455.5 795.5,451.5 835.5,444.5 845.5,438.5 873.5,436.5 893.5,430.5 905.5,424.5 927.5,422.5 934.5,423.5 954.5,417.5 969.5,415.5 979.5,416.5 997.5,409.5 1004.5,404.5 1024.5,396.5 1034.5,387.5 1047.5,381.5 1067.5,364.5 1077.5,359.5 1089.5,349.5 1102.5,341.5 1115.5,336.5 1125.5,328.5 1152.5,315.5 1177.5,301.5 1192.5,291.5 1212.5,279.5 1237.5,268.5" fill="none" stroke="#ff0000" stroke-width="1"/>
<polyline points="73.5,311.5 97.5,310.5 102.5,311.5 135.5,309.5 157.5,305.5 164.5,306.5 170.5,304.5 205.5,299.5 230.5,299.5 235.5,300.5 250.5,300.5 265.5,302.5 278.5,307.5 295.5,312.5 313.5,313.5 335.5,314.5 353.5,317.5 370.5,317.5 377.5,317.5 412.5,319.5 422.5,320.5 447.5,321.5 465.5,323.5 470.5,322.5 490.5,322.5 505.5,323.5 515.5,327.5 535.5,330.5 558.5,334.5 575.5,335.5 590.5,336.5 613.5,336.5 620.5,335.5 640.5,335.5 645.5,334.5 660.5,335.5 672.5,333.5 682.5,331.5 692.5,329.5 707.5,326.5 725.5,319.5 760.5,307.5 800.5,295.5 835.5,287.5 858.5,282.5 873.5,275.5 898.5,263.5 923.5,252.5 948.5,241.5 970.5,231.5 1026.5,206.5 1040.5,205.5 1057.5,203.5 1090.5,201.5 1135.5,195.5 1160.5,192.5 1197.5,189.5 1237.5,189.5" fill="none" stroke="#0000ff" stroke-width="1"/>
<polyline points="73.5,447.5 80.5,450.5 90.5,450.5 100.5,448.5 107.5,449.5 132.5,447.5 156.5,448.5 164.5,445.5 171.5,447.5 190.5,444.5 202.5,443.5 212.5,442.5 230.5,442.5 245.5,443.5 260.5,447.5 285.5,447.5 295.5,445.5 313.5,445.5 323.5,443.5 355.5,443.5 370.5,442.5 385.5,439.5 410.5,437.5 422.5,433.5 440.5,433.5 445.5,434.5 465.5,432.5 482.5,432.5 492.5,430.5 502.5,430.5 507.5,431.5 515.5,430.5 540.5,431.5 548.5,433.5 558.5,433.5 568.5,431.5 588.5,430.5 605.5,428.5 623.5,427.5 643.5,425.5 655.5,423.5 677.5,423.5 690.5,422.5 705.5,416.5 727.5,414.5 760.5,409.5 790.5,400.5 815.5,394.5 835.5,391.5 845.5,386.5 875.5,380.5 905.5,368.5 927.5,364.5 934.5,364.5 942.5,359.5 967.5,352.5 977.5,352.5 1007.5,338.5 1027.5,330.5 1032.5,326.5 1062.5,312.5 1102.5,293.5 1140.5,277.5 1167.5,267.5 1202.5,252.5 1237.5,240.5" fill="none" stroke="#0000ff" stroke-width="1"/>
<polyline points="73.5,369.5 97.5,370.5 135.5,368.5 160.5,366.5 180.5,364.5 200.5,361.5 220.5,360.5 235.5,361.5 260.5,364.5 285.5,367.5 310.5,369.5 335.5,369.5 355.5,371.5 370.5,369.5 392.5,369.5 412.5,368.5 427.5,369.5 460.5,369.5 490.5,369.5 500.5,367.5 510.5,370.5 530.5,373.5 550.5,374.5 560.5,376.5 595.5,376.5 623.5,375.5 635.5,374.5 655.5,373.5 670.5,372.5 677.5,372.5 692.5,368.5 710.5,364.5 727.5,358.5 760.5,351.5 785.5,345.5 817.5,335.5 848.5,327.5 873.5,321.5 885.5,316.5 905.5,307.5 925.5,300.5 942.5,292.5 964.5,284.5 989.5,274.5 1024.5,259.5 1067.5,247.5 1122.5,233.5 1152.5,227.5 1197.5,215.5 1237.5,211.5" fill="none" stroke="#000" stroke-width="1"/>
<polyline points="73.5,680.5 85.5,672.5 101.5,664.5 120.5,663.5 135.5,660.5 150.5,659.5 160.5,652.5 170.5,643.5 185.5,636.5 200.5,637.5 212.5,639.5 225.5,645.5 240.5,651.5 250.5,658.5 258.5,665.5 270.5,669.5 285.5,672.5 303.5,676.5 318.5,670.5 330.5,669.5 340.5,669.5 353.5,673.5 362.5,672.5 375.5,670.5 380.5,667.5 400.5,663.5 415.5,660.5 445.5,660.5 460.5,657.5 470.5,656.5 480.5,650.5 495.5,650.5 500.5,653.5 510.5,656.5 520.5,658.5 530.5,660.5 545.5,660.5 560.5,658.5 570.5,655.5 583.5,653.5 593.5,653.5 603.5,655.5 615.5,655.5 630.5,652.5 635.5,653.5 658.5,653.5 670.5,650.5 680.5,643.5 687.5,636.5 697.5,626.5 710.5,617.5 717.5,615.5 727.5,608.5 737.5,606.5 745.5,608.5 752.5,610.5 760.5,609.5 770.5,610.5 780.5,612.5 800.5,612.5 815.5,615.5 830.5,620.5 840.5,625.5 850.5,632.5 860.5,633.5 870.5,631.5 880.5,626.5 890.5,618.5 900.5,613.5 910.5,613.5 925.5,610.5 937.5,615.5 954.5,617.5 969.5,625.5 977.5,623.5 1004.5,621.5 1012.5,618.5 1027.5,617.5 1037.5,618.5 1057.5,623.5 1082.5,629.5 1117.5,637.5 1152.5,643.5 1177.5,647.5 1202.5,649.5 1222.5,650.5 1237.5,652.5" fill="none" stroke="#000" stroke-width="1"/>
<polyline points="73.5,676.5 85.5,675.5 110.5,668.5 135.5,664.5 160.5,660.5 170.5,656.5 185.5,648.5 200.5,643.5 215.5,642.5 230.5,643.5 250.5,648.5 275.5,660.5 295.5,667.5 310.5,670.5 335.5,669.5 353.5,671.5 362.5,672.5 375.5,671.5 410.5,665.5 447.5,662.5 470.5,658.5 490.5,655.5 510.5,655.5 525.5,657.5 545.5,658.5 560.5,658.5 575.5,656.5 593.5,654.5 610.5,655.5 625.5,654.5 643.5,653.5 658.5,653.5 670.5,653.5 682.5,650.5 697.5,642.5 710.5,635.5 725.5,626.5 740.5,618.5 765.5,613.5 795.5,613.5 802.5,612.5 815.5,613.5 835.5,616.5 850.5,622.5 865.5,626.5 875.5,627.5 890.5,624.5 905.5,620.5 925.5,616.5 935.5,615.5 954.5,616.5 969.5,619.5 992.5,621.5 1007.5,620.5 1027.5,618.5 1047.5,619.5 1067.5,622.5 1102.5,628.5 1140.5,635.5 1177.5,642.5 1202.5,645.5 1222.5,648.5 1237.5,649.5" fill="none" stroke="#0000ff" stroke-width="1"/>
<line x1="80.5" y1="402.5" x2="100" y2="397.5" stroke="#0000ff"/>
<line x1="1018" y1="195.5" x2="1038" y2="200.5" stroke="#0000ff"/>
<line x1="1026" y1="206.5" x2="1039" y2="206.5" stroke="#0000ff"/>
<g font-family="DejaVu Sans,sans-serif" font-size="10.6" fill="#0000ff" shape-rendering="auto">
<text x="101" y="400" textLength="59" lengthAdjust="spacingAndGlyphs">1986.0699</text>
<text x="1039.5" y="211" textLength="58.5" lengthAdjust="spacingAndGlyphs">2391.3501</text>
</g>
<polygon points="381.5,527 388.5,527 385,523" fill="#000"/>
<rect x="0" y="589" width="1237" height="2" fill="#808080"/>
<rect x="70" y="606" width="1167" height="1" fill="#a0a0a0"/>
<g shape-rendering="auto">
<g font-family="Liberation Sans,Noto Sans CJK SC,sans-serif" font-size="12.5" font-weight="400">
<text x="3" y="145" fill="#0000ff" textLength="30" lengthAdjust="spacingAndGlyphs">日K线</text>
<text x="71" y="154" fill="#000" textLength="50.5" lengthAdjust="spacingAndGlyphs">极反通道</text>
<text x="1189.5" y="153.5" fill="#0000ff" textLength="51" lengthAdjust="spacingAndGlyphs">上证指数</text>
</g>
<g font-family="Liberation Mono,monospace" font-size="12.5" fill="#0000ff">
<text x="1140" y="153.5" textLength="39" lengthAdjust="spacingAndGlyphs">1A0001</text>
<text x="3" y="603" textLength="27" lengthAdjust="spacingAndGlyphs">MACD</text>
</g>
<g font-family="Liberation Sans,sans-serif" font-size="12">
<text x="141.0" y="155" fill="#ff0000" textLength="67.5" lengthAdjust="spacingAndGlyphs">Tp=2221.3641</text>
<text x="219.0" y="155" fill="#0000ff" textLength="68.5" lengthAdjust="spacingAndGlyphs">Up=2141.6293</text>
<text x="298.0" y="155" fill="#000" textLength="72.0" lengthAdjust="spacingAndGlyphs">Md=2051.0590</text>
<text x="377.5" y="155" fill="#0000ff" textLength="70.5" lengthAdjust="spacingAndGlyphs">Dn=1929.6626</text>
<text x="456.0" y="155" fill="#ff0000" textLength="66.5" lengthAdjust="spacingAndGlyphs">Bt=1819.4691</text>
<text x="75.5" y="602.8" fill="#000" textLength="44.5" lengthAdjust="spacingAndGlyphs">DIF=7.29</text>
<text x="146.5" y="602.8" fill="#0000ff" textLength="48.5" lengthAdjust="spacingAndGlyphs">DEA=2.07</text>
<text x="217.5" y="602.8" fill="#ff00ff" textLength="63.5" lengthAdjust="spacingAndGlyphs">MACD=10.44</text>
</g>
<g font-family="Liberation Mono,monospace" font-size="11" fill="#4a4a4a" text-anchor="end">
<text x="67.5" y="520.6" textLength="54" lengthAdjust="spacingAndGlyphs">1749.1233</text>
<text x="67.5" y="544.6" textLength="54" lengthAdjust="spacingAndGlyphs">220141170</text>
<text x="67.5" y="560.6" textLength="54" lengthAdjust="spacingAndGlyphs">146760780</text>
<text x="67.5" y="576.6" textLength="48" lengthAdjust="spacingAndGlyphs">73380390</text>
<text x="67.5" y="616.2" textLength="30" lengthAdjust="spacingAndGlyphs">38.78</text>
<text x="67.5" y="633.6" textLength="30" lengthAdjust="spacingAndGlyphs">23.70</text>
<text x="67.5" y="651.6" textLength="24" lengthAdjust="spacingAndGlyphs">8.61</text>
<text x="67.5" y="668.8" textLength="30" lengthAdjust="spacingAndGlyphs">-6.47</text>
</g>
<text x="1082" y="666.5" font-family="Liberation Serif,Noto Serif CJK SC,serif" font-size="26.5" font-weight="300" fill="#f00000" letter-spacing="4.5" transform="translate(81,0) skewX(-7)">赢家财富网</text>
</g>
</svg>
<svg id="ic" width="1237" height="128" viewBox="0 0 1237 128">
<path d="M5.5 52 V72 H3.0" fill="none" stroke="#a0a0a0" shape-rendering="crispEdges"/>
<rect x="4" y="52" width="1" height="20" fill="#fff" shape-rendering="crispEdges"/>
<path d="M5.5 79 V99 H3.0" fill="none" stroke="#a0a0a0" shape-rendering="crispEdges"/>
<rect x="4" y="79" width="1" height="20" fill="#fff" shape-rendering="crispEdges"/>
<path d="M5.5 105 V125 H3.0" fill="none" stroke="#a0a0a0" shape-rendering="crispEdges"/>
<rect x="4" y="105" width="1" height="20" fill="#fff" shape-rendering="crispEdges"/>
<path d="M452.5 105 V125 H450.0" fill="none" stroke="#a0a0a0" shape-rendering="crispEdges"/>
<rect x="451" y="105" width="1" height="20" fill="#fff" shape-rendering="crispEdges"/>
<path d="M669.5 105 V125 H667.0" fill="none" stroke="#a0a0a0" shape-rendering="crispEdges"/>
<rect x="668" y="105" width="1" height="20" fill="#fff" shape-rendering="crispEdges"/>
<rect x="210" y="78" width="1" height="22" fill="#a0a0a0" shape-rendering="crispEdges"/><rect x="211" y="78" width="1" height="22" fill="#fff" shape-rendering="crispEdges"/>
<rect x="446" y="78" width="1" height="22" fill="#a0a0a0" shape-rendering="crispEdges"/><rect x="447" y="78" width="1" height="22" fill="#fff" shape-rendering="crispEdges"/>
<rect x="567" y="78" width="1" height="22" fill="#a0a0a0" shape-rendering="crispEdges"/><rect x="568" y="78" width="1" height="22" fill="#fff" shape-rendering="crispEdges"/>
<rect x="446" y="102" width="1" height="25" fill="#a0a0a0" shape-rendering="crispEdges"/><rect x="447" y="102" width="1" height="25" fill="#fff" shape-rendering="crispEdges"/>
<rect x="663" y="102" width="1" height="25" fill="#a0a0a0" shape-rendering="crispEdges"/><rect x="664" y="102" width="1" height="25" fill="#fff" shape-rendering="crispEdges"/>
<rect x="39" y="78" width="23" height="21" fill="#f8f8f8" shape-rendering="crispEdges"/>
<path d="M39.5 99 V78.5 H62" fill="none" stroke="#a0a0a0" shape-rendering="crispEdges"/>
<path d="M61.5 79 V98.5 H40" fill="none" stroke="#fff" shape-rendering="crispEdges"/>
<rect x="162" y="78" width="23" height="21" fill="#f8f8f8" shape-rendering="crispEdges"/>
<path d="M162.5 99 V78.5 H185" fill="none" stroke="#a0a0a0" shape-rendering="crispEdges"/>
<path d="M184.5 79 V98.5 H163" fill="none" stroke="#fff" shape-rendering="crispEdges"/>
<rect x="185" y="78" width="23" height="21" fill="#f8f8f8" shape-rendering="crispEdges"/>
<path d="M185.5 99 V78.5 H208" fill="none" stroke="#a0a0a0" shape-rendering="crispEdges"/>
<path d="M207.5 79 V98.5 H186" fill="none" stroke="#fff" shape-rendering="crispEdges"/>
<rect x="473" y="78" width="23" height="21" fill="#f8f8f8" shape-rendering="crispEdges"/>
<path d="M473.5 99 V78.5 H496" fill="none" stroke="#a0a0a0" shape-rendering="crispEdges"/>
<path d="M495.5 79 V98.5 H474" fill="none" stroke="#fff" shape-rendering="crispEdges"/>
<g shape-rendering="crispEdges"><rect x="11" y="55" width="16" height="13" fill="#000"/><rect x="12" y="58" width="14" height="9" fill="#fff"/><rect x="12" y="56" width="14" height="2" fill="#0000ff"/><rect x="14" y="55" width="10" height="1" fill="#0000ff"/><rect x="12" y="56" width="2" height="1" fill="#fff"/><rect x="24" y="56" width="2" height="1" fill="#fff"/>
<rect x="13" y="59" width="2" height="1" fill="#000"/><rect x="16" y="59" width="2" height="1" fill="#000"/><rect x="19" y="59" width="2" height="1" fill="#000"/><rect x="22" y="59" width="3" height="1" fill="#000"/>
<rect x="13" y="61" width="2" height="1" fill="#000"/><rect x="16" y="61" width="2" height="1" fill="#000"/><rect x="19" y="61" width="2" height="1" fill="#000"/><rect x="22" y="61" width="3" height="1" fill="#000"/>
<rect x="13" y="63" width="2" height="1" fill="#000"/><rect x="16" y="63" width="2" height="1" fill="#000"/><rect x="19" y="63" width="2" height="1" fill="#000"/><rect x="22" y="63" width="3" height="1" fill="#000"/>
<rect x="13" y="65" width="2" height="1" fill="#000"/><rect x="16" y="65" width="2" height="1" fill="#000"/><rect x="19" y="65" width="2" height="1" fill="#000"/><rect x="22" y="65" width="3" height="1" fill="#000"/>
</g>
<defs><pattern id="dth" x="0" y="0" width="2" height="2" patternUnits="userSpaceOnUse"><rect width="2" height="2" fill="#00ffff"/><rect x="0" y="0" width="1" height="1" fill="#000"/><rect x="1" y="1" width="1" height="1" fill="#000"/></pattern></defs>
<g shape-rendering="crispEdges"><rect x="64" y="54" width="8" height="8" fill="#000"/><rect x="72" y="54" width="8" height="7" fill="#000"/><rect x="64" y="63" width="8" height="7" fill="#000"/><rect x="72" y="62" width="8" height="8" fill="#000"/><rect x="69" y="60" width="6" height="5" fill="#000"/><rect x="65" y="55" width="6" height="6" fill="url(#dth)"/><rect x="66" y="56" width="5" height="5" fill="#000"/><rect x="67" y="57" width="4" height="4" fill="#008080"/><rect x="73" y="55" width="2" height="7" fill="url(#dth)"/><rect x="73" y="60" width="6" height="2" fill="url(#dth)"/><rect x="75" y="55" width="4" height="4" fill="#00ffff"/><rect x="65" y="62" width="7" height="2" fill="url(#dth)"/><rect x="70" y="62" width="2" height="7" fill="url(#dth)"/><rect x="65" y="65" width="4" height="4" fill="#00ffff"/><rect x="73" y="63" width="6" height="6" fill="url(#dth)"/><rect x="73" y="63" width="5" height="5" fill="#000"/><rect x="73" y="63" width="4" height="4" fill="#008080"/></g>
<g shape-rendering="crispEdges"><rect x="118" y="62" width="1" height="8" fill="#ff0000"/><rect x="117.5" y="64.5" width="2" height="3" fill="#f0f0f0" stroke="#ff0000"/></g>
<g shape-rendering="crispEdges"><rect x="122" y="58" width="1" height="9" fill="#ff0000"/><rect x="121.5" y="60.5" width="2" height="4" fill="#f0f0f0" stroke="#ff0000"/></g>
<g shape-rendering="crispEdges"><rect x="126" y="58" width="1" height="7" fill="#008000"/><rect x="125.5" y="60.5" width="2" height="2" fill="#f0f0f0" stroke="#008000"/></g>
<g shape-rendering="crispEdges"><rect x="130" y="54" width="1" height="9" fill="#ff0000"/><rect x="129.5" y="56.5" width="2" height="4" fill="#f0f0f0" stroke="#ff0000"/></g>
<rect x="167.5" y="55.5" width="12" height="12" fill="#fff" stroke="#ff0000" shape-rendering="crispEdges"/>
<rect x="167.5" y="55.5" width="12" height="12" fill="none" stroke="#000" stroke-opacity=".55" stroke-dasharray="1 1" shape-rendering="crispEdges"/>
<text x="168.9" y="65" font-family="Liberation Sans,sans-serif" font-size="9.2" font-weight="700" fill="#000" textLength="9.8" lengthAdjust="spacingAndGlyphs">PS</text>
<rect x="239.5" y="55.5" width="12" height="12" fill="#fff" stroke="#ff00ff" shape-rendering="crispEdges"/>
<rect x="239.5" y="55.5" width="12" height="12" fill="none" stroke="#000" stroke-opacity=".55" stroke-dasharray="1 1" shape-rendering="crispEdges"/>
<text x="240.9" y="65" font-family="Liberation Sans,sans-serif" font-size="9.2" font-weight="700" fill="#800000" textLength="9.8" lengthAdjust="spacingAndGlyphs">P9</text>
<rect x="318.5" y="55.5" width="12" height="12" fill="#fff" stroke="#ff0000" shape-rendering="crispEdges"/>
<rect x="318.5" y="55.5" width="12" height="12" fill="none" stroke="#000" stroke-opacity=".55" stroke-dasharray="1 1" shape-rendering="crispEdges"/>
<text x="319.9" y="65" font-family="Liberation Sans,sans-serif" font-size="9.2" font-weight="700" fill="#000" textLength="9.8" lengthAdjust="spacingAndGlyphs">PN</text>
<rect x="390.5" y="55.5" width="12" height="12" fill="#fff" stroke="#00e000" shape-rendering="crispEdges"/>
<rect x="390.5" y="55.5" width="12" height="12" fill="none" stroke="#000" stroke-opacity=".55" stroke-dasharray="1 1" shape-rendering="crispEdges"/>
<text x="391.9" y="65" font-family="Liberation Sans,sans-serif" font-size="9.2" font-weight="700" fill="#800000" textLength="9.8" lengthAdjust="spacingAndGlyphs">TS</text>
<rect x="462.5" y="55.5" width="12" height="12" fill="#fff" stroke="#00e8e8" shape-rendering="crispEdges"/>
<rect x="462.5" y="55.5" width="12" height="12" fill="none" stroke="#000" stroke-opacity=".55" stroke-dasharray="1 1" shape-rendering="crispEdges"/>
<text x="463.9" y="65" font-family="Liberation Sans,sans-serif" font-size="9.2" font-weight="700" fill="#800000" textLength="9.8" lengthAdjust="spacingAndGlyphs">T9</text>
<rect x="541.5" y="55.5" width="12" height="12" fill="#fff" stroke="#00e000" shape-rendering="crispEdges"/>
<rect x="541.5" y="55.5" width="12" height="12" fill="none" stroke="#000" stroke-opacity=".55" stroke-dasharray="1 1" shape-rendering="crispEdges"/>
<text x="542.9" y="65" font-family="Liberation Sans,sans-serif" font-size="9.2" font-weight="700" fill="#800000" textLength="9.8" lengthAdjust="spacingAndGlyphs">TN</text>
<circle cx="619.6" cy="61.6" r="6.6" fill="none" stroke="#800000" stroke-width="2"/><circle cx="619.6" cy="61.6" r="3.6" fill="#f6b0a0" stroke="#00703c" stroke-width="2"/><path d="M614 61.600H625M619.600 56V67" stroke="#888" stroke-width=".8"/>
<circle cx="684.8" cy="61.6" r="7" fill="#f4f4f4" stroke="#2f6a96" stroke-width="1.2"/><text x="684.9" y="65.3" font-family="Liberation Sans,sans-serif" font-size="11.5" fill="#3f9440" text-anchor="middle" textLength="10.8" lengthAdjust="spacingAndGlyphs">Big</text>
<polygon points="742.5,61.8 746.5,55.3 753.8,55.3 757.8,61.8 753.8,68.4 746.5,68.4" fill="#f4f4f4" stroke="#c00000" stroke-width="1.2"/><circle cx="750.2" cy="61.8" r="3.4" fill="#fff" stroke="#0000c0" stroke-width="1.8"/><circle cx="750.2" cy="61.8" r="1.3" fill="#008000"/>
<text x="815" y="67.5" font-family="Liberation Sans,sans-serif" font-weight="700" font-size="18" fill="#7cc47c" text-anchor="middle">$</text>
<text x="12.6" y="93.3" font-family="Liberation Sans,Noto Sans CJK SC,sans-serif" font-weight="700" font-size="13" fill="#000" textLength="12" lengthAdjust="spacingAndGlyphs">日</text>
<polygon points="29.5,88 35,88 32.3,91" fill="#000"/><polygon points="153,88 158.500,88 155.800,91" fill="#000"/>
<g fill="none" stroke="#0000ff" stroke-width="1"><path d="M44.500 86.500 Q51 81.500 57.500 86.500 L57.500 89 L54.500 89.500 L53.500 87 Q51 86 48.500 87 L47.500 89.500 L44.500 89 Z"/><path d="M47.500 89.500 L45 93.500 Q51 96.500 57 93.500 L54.500 89.500"/><circle cx="51" cy="91.300" r="1.600"/></g>
<g fill="none" stroke="#0000ff" stroke-width="1"><rect x="67.500" y="83.500" width="9" height="11" rx="2"/><path d="M70.500 83.500V82.500H73.500V83.500M70 87.500H74M70 89.500H74M70 91.500H74"/></g>
<path d="M0.500 17.500V13.500H2.500V16.500H4.500V10.500H6.500V13.500H8.500V4.500H10.500V10.500H12.500V6.500" fill="none" stroke="#800080" stroke-width="1" shape-rendering="crispEdges" transform="translate(89,78)"/>
<text x="98.6" y="97.2" font-family="Liberation Sans,sans-serif" font-weight="700" font-size="6.8" fill="#000">3</text>
<path d="M0.500 17.500V13.500H2.500V16.500H4.500V10.500H6.500V13.500H8.500V4.500H10.500V10.500H12.500V6.500" fill="none" stroke="#800000" stroke-width="1" shape-rendering="crispEdges" transform="translate(112,78)"/>
<text x="121.6" y="97.2" font-family="Liberation Sans,sans-serif" font-weight="700" font-size="6.8" fill="#000">9</text>
<g shape-rendering="crispEdges"><rect x="141" y="82" width="1" height="14" fill="#000"/><rect x="139.500" y="84.500" width="4" height="8" fill="#f0f0f0" stroke="#000"/></g>
<g fill="none" stroke="#800000" stroke-width="1.05"><path d="M170.700 82.500H168.500V84.500L166.500 85.500V87.100L167.500 88.100V89.300L166.500 90.400V92.200L168.500 93.200V96.400H173.300V95.400L174.400 94.400H175.400L177.400 96.400H178.800L179.800 95.400V93.400L177.800 91.400V90.400L178.800 89.300V88.100L179.800 86.900V83.500H171.700V82.500Z"/><path d="M171.700 83.500V88.100L170.700 88.900V90.400L171.700 91.400H172.700L173.700 90.400V89.300L172.700 88.300L171.700 88.100M171.700 91.400V93.400L170.700 94.400V96"/></g><rect x="175.2" y="86.2" width="1.800" height="1.800" fill="#800000"/>
<g shape-rendering="crispEdges">
<rect x="191" y="82" width="1" height="1" fill="#ff00ff"/>
<rect x="191" y="83" width="3" height="1" fill="#ff00ff"/>
<rect x="191" y="84" width="7" height="1" fill="#ff00ff"/>
<rect x="191" y="85" width="6" height="1" fill="#ff00ff"/>
<rect x="191" y="86" width="5" height="1" fill="#ff00ff"/>
<rect x="191" y="87" width="10" height="1" fill="#ff00ff"/>
<rect x="191" y="88" width="14" height="1" fill="#ff00ff"/>
<rect x="191" y="89" width="12" height="1" fill="#008080"/>
<rect x="191" y="90" width="9" height="1" fill="#008080"/>
<rect x="191" y="91" width="7" height="1" fill="#008080"/>
<rect x="191" y="92" width="4" height="1" fill="#008080"/>
<rect x="191" y="93" width="6" height="1" fill="#008080"/>
<rect x="191" y="94" width="2" height="1" fill="#008080"/>
<rect x="190" y="82" width="1" height="16" fill="#800000"/><rect x="189" y="96" width="16" height="1" fill="#800000"/></g>
<g stroke="#000" stroke-width=".9" fill="#808000"><rect x="217.300" y="81.500" width="2.400" height="14"/><polygon points="231.700,81.700 231.700,95.300 220.200,88.500"/></g>
<g stroke="#000" stroke-width=".9" fill="#808000"><rect x="252.300" y="81.500" width="2.400" height="14"/><polygon points="240.300,81.700 240.300,95.300 251.800,88.500"/></g>
<polygon points="263.700,88 277.800,81.300 272.100,88" fill="#fff"/><polygon points="277.800,81.300 277.800,95.600 272,88" fill="#888"/><polygon points="263.700,88 272,88 277.800,95.600" fill="#000"/><path d="M264.500 87.500L277.500 81.500" stroke="#d0d0d0" stroke-width=".6" stroke-dasharray="1 1"/>
<polygon points="301.300,88 287.200,81.300 292.900,88" fill="#fff"/><polygon points="287.200,81.300 287.200,95.600 293,88" fill="#888"/><polygon points="301.300,88 293,88 287.200,95.600" fill="#000"/><path d="M300.500 87.500L287.500 81.500" stroke="#d0d0d0" stroke-width=".6" stroke-dasharray="1 1"/>
<g transform="translate(316.4,88.500)"><polygon points="-7.400,0 0,-7.400 7.400,0 0,7.400" fill="#ffff00" stroke="#000" stroke-width="1"/><g stroke="#000" stroke-width="1.100" fill="none"><path d="M-3 0H4.500"/><polygon points="-4.700,0 -1.500,-2.400 -1.500,2.400" fill="#000" stroke="none"/></g></g>
<g transform="translate(339.5,88.500)"><polygon points="-7.400,0 0,-7.400 7.400,0 0,7.400" fill="#ffff00" stroke="#000" stroke-width="1"/><g stroke="#000" stroke-width="1.100" fill="none"><path d="M-4.500 0H3"/><polygon points="4.700,0 1.500,-2.400 1.500,2.400" fill="#000" stroke="none"/></g></g>
<g transform="translate(362.4,88.500)"><polygon points="-7.400,0 0,-7.400 7.400,0 0,7.400" fill="#ffff00" stroke="#000" stroke-width="1"/><g stroke="#000" stroke-width="1.100" fill="none"><path d="M0 -5.500V5.500" stroke="#b0b0b0" stroke-dasharray="1 1"/><path d="M-3 0H3"/><polygon points="-5.200,0 -2,-2.500 -2,2.500" fill="#000" stroke="none"/><polygon points="5.200,0 2,-2.500 2,2.500" fill="#000" stroke="none"/></g></g>
<g transform="translate(385.5,88.500)"><polygon points="-7.400,0 0,-7.400 7.400,0 0,7.400" fill="#ffff00" stroke="#000" stroke-width="1"/><g stroke="#000" stroke-width="1.100" fill="none"><path d="M0 -5.500V5.500" stroke="#b0b0b0" stroke-dasharray="1 1"/><path d="M-6 0H6"/><polygon points="-0.600,0 -3.600,-2.400 -3.600,2.400" fill="#000" stroke="none"/><polygon points="0.600,0 3.600,-2.400 3.600,2.400" fill="#000" stroke="none"/></g></g>
<g transform="translate(408.4,88.500)"><polygon points="-7.400,0 0,-7.400 7.400,0 0,7.400" fill="#ffff00" stroke="#000" stroke-width="1"/><g stroke="#000" stroke-width="1.100" fill="none"><path d="M-5.500 0H5.500M0 -5.500V5.500" stroke-width="1"/><path d="M-3 -3L3 3M-3 3L3 -3" stroke-width="1.300"/><rect x="-1.200" y="-1.200" width="2.400" height="2.400" fill="#000" stroke="none"/></g></g>
<g transform="translate(431.5,88.500)"><polygon points="-7.400,0 0,-7.400 7.400,0 0,7.400" fill="#ffff00" stroke="#000" stroke-width="1"/><g stroke="#000" stroke-width="1.100" fill="none"><path d="M-5.500 0H5.500M0 -4V4"/><polygon points="0,-5.800 -2.600,-2.600 2.600,-2.600" fill="#000" stroke="none"/><polygon points="0,5.800 -2.600,2.600 2.600,2.600" fill="#000" stroke="none"/><path d="M-4 -1.500L-5.500 0L-4 1.500M4 -1.500L5.500 0L4 1.500" stroke-width=".9"/></g></g>
<path d="M458.500 90.500V82.200L459.500 81.300L460.500 82.400V87.700M460.500 83.800L461.500 83.500L462.500 85V87.700M462.500 84.800L463.500 84.500L464.500 86V88.700M464.500 85.800L465.500 85.500L466.500 86.500V91.300L465.500 93L463.500 95.400M458.500 89.700L456.500 87.500H454.200V89.500L458.500 95.600" fill="none" stroke="#000" stroke-width="1.05"/>
<path d="M478 89.500H491M484.500 83V97" stroke="#000" stroke-width="1.150"/>
<path d="M499.100 85.100L503.400 93.300L509.600 84.500L514.700 91.600" fill="none" stroke="#000" stroke-width="1"/><circle cx="503.400" cy="93.600" r="2" fill="none" stroke="#ff0000" stroke-width="1"/><circle cx="509.600" cy="85" r="2.100" fill="none" stroke="#ff0000" stroke-width="1"/>
<path d="M522.600 82H526V81.200H527.700V82H531.100V81.200H533.400V82H536.700V85H536.200V91.800L535 93H530V95.500H526.600V89.600H523.200V85H522.600Z M524.500 84.200H535 M525 86.600H534.500 M528.500 86.600V93.500 M530.500 89.600H533V91" fill="none" stroke="#800080" stroke-width="1.050"/>
<path d="M549.500 81.500L545.700 86V87.800L547.200 86.800L548.500 88L545.500 91.300V95.300H550.800V92.700H546.500M550.800 91.300H546 M551 82H557.500L559.500 84V86.500L558.200 88.500L560 91V93.200L557.500 95.600H555L553 93.600L551.200 94.600 M552 84.500L554 86.500L552 89L554.500 91.500 M555.500 84L557 86L555.500 88.500L557.500 91" fill="none" stroke="#008080" stroke-width="1"/>
<g shape-rendering="crispEdges"><rect x="577" y="85" width="12" height="12" fill="#000"/><rect x="575" y="84" width="13" height="12" fill="#808080"/><rect x="576" y="86" width="12" height="10" fill="#fff"/><rect x="576" y="84" width="11" height="2" fill="#00ffff"/><rect x="577" y="82" width="1" height="2" fill="#404040"/><rect x="585" y="82" width="1" height="2" fill="#404040"/><rect x="576" y="83" width="3" height="1" fill="#fff"/><rect x="584" y="83" width="3" height="1" fill="#fff"/></g>
<text x="581.300" y="94.300" font-family="Liberation Sans,sans-serif" font-size="9.600" fill="#ff0000" text-anchor="middle" textLength="9.600" lengthAdjust="spacingAndGlyphs">21</text>
<g shape-rendering="crispEdges"><rect x="597" y="81" width="16" height="16" fill="#008080"/><rect x="597" y="81" width="15" height="1" fill="#20c0c0"/><rect x="597" y="81" width="1" height="15" fill="#00ffff"/><rect x="598" y="82" width="1" height="14" fill="#008080"/><rect x="612" y="82" width="1" height="15" fill="#000080"/><rect x="598" y="96" width="15" height="1" fill="#000080"/><rect x="599" y="83" width="13" height="13" fill="#006060"/><rect x="600" y="83" width="11" height="4" fill="#000"/><rect x="601" y="84" width="9" height="2" fill="#e8e8e8"/><rect x="603" y="87" width="2" height="8" fill="#008080"/><rect x="607" y="87" width="1" height="8" fill="#008080"/>
<rect x="600" y="87" width="3" height="3" fill="#000"/><rect x="600" y="87" width="2" height="2" fill="#fff"/>
<rect x="604" y="87" width="3" height="3" fill="#000"/><rect x="604" y="87" width="2" height="2" fill="#fff"/>
<rect x="608" y="87" width="3" height="3" fill="#000"/><rect x="608" y="87" width="2" height="2" fill="#fff"/>
<rect x="600" y="90" width="3" height="3" fill="#000"/><rect x="600" y="90" width="2" height="2" fill="#fff"/>
<rect x="604" y="90" width="3" height="3" fill="#000"/><rect x="604" y="90" width="2" height="2" fill="#fff"/>
<rect x="608" y="90" width="3" height="3" fill="#000"/><rect x="608" y="90" width="2" height="2" fill="#fff"/>
<rect x="600" y="93" width="3" height="3" fill="#000"/><rect x="600" y="93" width="2" height="2" fill="#fff"/>
<rect x="604" y="93" width="3" height="3" fill="#000"/><rect x="604" y="93" width="2" height="2" fill="#fff"/>
<rect x="608" y="93" width="3" height="3" fill="#000"/><rect x="608" y="93" width="2" height="2" fill="#fff"/>
<rect x="598" y="83" width="1" height="1" fill="#fff"/><rect x="598" y="86" width="1" height="1" fill="#fff"/><rect x="598" y="89" width="1" height="1" fill="#fff"/><rect x="598" y="92" width="1" height="1" fill="#fff"/></g>
<g shape-rendering="crispEdges"><rect x="620" y="81" width="16" height="16" fill="#000"/><rect x="622" y="82" width="12" height="14" fill="#fff"/><path d="M624 83.500H632M625 85.500H631M625 87.500H632M626 89.500H632M625 91.500H628" stroke="#0000ff"/><path d="M621.500 82V96" stroke="#fff" stroke-dasharray="1 1"/><rect x="634" y="83" width="1" height="10" fill="#808080"/></g><polygon points="628.500,96 634,96 634,91.500 629.500,91.500" fill="#000"/><polygon points="630,95.500 633.500,95.500 633.500,92.500" fill="#fff"/>
<g shape-rendering="crispEdges"><rect x="643" y="82" width="16" height="14" fill="#000"/><rect x="644" y="83" width="3" height="12" fill="#ff0000"/><rect x="647" y="91" width="11" height="4" fill="#ff0000"/><rect x="657" y="92" width="2" height="4" fill="#f0f0f0"/><rect x="656" y="92" width="1" height="3" fill="#000"/><rect x="648" y="83" width="10" height="7" fill="#8ff0ff"/><rect x="648" y="90" width="10" height="1" fill="#0000e0"/><polygon points="654,90 658,90 658,86" fill="#008000"/><rect x="649" y="85" width="1" height="1" fill="#ffff00"/><rect x="647" y="92" width="6" height="3" fill="#fff"/><rect x="649" y="93" width="2" height="2" fill="#000"/><rect x="644" y="83" width="1" height="1" fill="#fff"/></g>
<g shape-rendering="crispEdges"><rect x="670" y="81" width="8" height="7" fill="#fff"/><rect x="670" y="81" width="8" height="2" fill="#000080"/><rect x="666" y="84" width="8" height="8" fill="#000"/><rect x="667" y="86" width="6" height="5" fill="#fff"/><rect x="666" y="84" width="8" height="2" fill="#000080"/><rect x="668" y="87" width="1" height="1" fill="#808080"/><rect x="668" y="89" width="1" height="1" fill="#808080"/><rect x="675" y="84" width="1" height="2" fill="#808080"/></g><circle cx="676.800" cy="92.100" r="4.600" fill="#00e0e0" stroke="#000" stroke-width="1"/><path d="M674.800 90.500L677 89L679.500 90L678.500 92L677 93.500L676 95L675.500 92.500Z" fill="#c8c800"/><path d="M673 91L674.500 93.500M680 92.500L679 94.500" stroke="#fff" stroke-width=".8"/>
<g shape-rendering="crispEdges"><rect x="693.500" y="81.500" width="10" height="10" fill="#f0f0f0" stroke="#808040"/><rect x="695" y="83" width="6" height="4" fill="#0000e0"/><rect x="695" y="83" width="6" height="1" fill="#000080"/><rect x="696" y="88" width="7" height="3" fill="#c8c8a0"/><rect x="700" y="88" width="2" height="1" fill="#008000"/><rect x="698" y="92" width="6" height="3" fill="#000"/><rect x="696" y="95" width="6" height="1" fill="#000"/><rect x="690.500" y="86.500" width="5" height="10" fill="#fff" stroke="#808040"/><rect x="691" y="90" width="4" height="3" fill="#0000e0"/><rect x="694" y="89" width="1" height="3" fill="#c00000"/></g><path d="M689.200 87.200L691.500 85L693.500 86.500" stroke="#000" fill="none" stroke-width=".9"/>
<g transform="translate(11.0,106.5) scale(1.00)"><polygon points="8.600,3.300 15.100,7.800 14.500,11.500 6.900,14 4,12.900 5.800,7.800" fill="#a0a0a0" stroke="#000" stroke-width="1"/><path d="M9 5.500L6.500 12.500M11 6.500L8.500 13M13 8.500L11 12.500" stroke="#e0e0e0" stroke-width=".8"/><path d="M8 5L5.500 12M10 6L7.500 12.800M12 7.500L10 12.800" stroke="#505050" stroke-width=".7"/><polygon points="10.300,0.500 14.800,1.600 15.100,7.800 8.600,3.300" fill="#ff0000"/><path d="M8.600 3.300L10.300 0.500M8.600 3.300L15.100 7.800" stroke="#000" stroke-width=".9" fill="none"/><polygon points="4,12.900 8,12.900 3.500,15.200" fill="#ff0000"/><path d="M0.100 12.600L3.500 16L8 13.500" fill="none" stroke="#000" stroke-width="1"/></g>
<g shape-rendering="crispEdges"><path d="M35 114.500H49M36.500 109V121M40.500 109V121M44.500 109V121" stroke="#000" fill="none"/></g>
<path d="M57.0 109.5H73.0M58.5 107V113M62.5 107V113M66.5 107V113M70.5 107V113" stroke="#000" fill="none" shape-rendering="crispEdges"/>
<text x="64.3" y="121.5" font-family="Liberation Sans,Noto Sans CJK SC,sans-serif" font-size="9.8" font-weight="500" fill="#808000" text-anchor="middle">金</text>
<path d="M80.0 109.5H96.0M81.5 107V113M85.5 107V113M89.5 107V113M93.5 107V113" stroke="#000" fill="none" shape-rendering="crispEdges"/>
<text x="87.3" y="121.5" font-family="Liberation Sans,Noto Sans CJK SC,sans-serif" font-size="9.8" font-weight="500" fill="#808000" text-anchor="middle">金</text>
<path d="M103.0 109.5H119.0M104.5 107V113M108.5 107V113M112.5 107V113M116.5 107V113" stroke="#000" fill="none" shape-rendering="crispEdges"/>
<text x="111.0" y="121.5" font-family="Liberation Sans,sans-serif" font-size="11" font-weight="400" fill="#000" text-anchor="middle">F</text>
<path d="M126 109.500H142M127.500 107V112M131.500 107V112M133.500 107V112M136.500 107V112M140.500 107V112" stroke="#000" fill="none" shape-rendering="crispEdges"/>
<path d="M128.200 114.600Q133 112.600 138.400 114.600Q140.600 116 140.100 117.700Q140 120 138.400 121.100Q136 122.600 133.300 122.500Q131 122.300 130.500 121.100Q130 120 130.500 119.100Q131.500 118 133.300 118H135.300" fill="none" stroke="#000" stroke-width="1.1" />
<g transform="translate(150.800,105.300) scale(0.86)"><polygon points="8.600,3.300 15.100,7.800 13,11.500 6.500,12.500 4.500,11.500 5.800,7.800" fill="#b4b4b4" stroke="#000" stroke-width=".9"/><path d="M9 5.500L6.500 11.500M11 6.500L9 12M13 8.500L11.500 11.500" stroke="#f0f0e0" stroke-width=".9"/><polygon points="10.300,0.800 12.500,2 14,0.800 16,2.500 15.100,7.800 8.600,3.300" fill="#ff0000"/><path d="M8.600 3.300L10.300 0.800M8.600 3.300L15.100 7.800" stroke="#000" stroke-width="1" fill="none"/><polygon points="4.500,11.500 7.500,11.800 2,14.500" fill="#ff0000"/></g>
<path d="M149 120.500H165M149.500 118V123M155.500 118V123M162.500 118V123M158.500 119V122M160.500 119V122" stroke="#000" fill="none" shape-rendering="crispEdges"/>
<circle cx="180" cy="114.900" r="7.600" fill="none" stroke="#000" stroke-width="1"/><path d="M172 114.500H188M175.500 112V117M177.500 112V117M179.500 112V117M181.500 112V117M183.500 112V117M185.500 112V117" stroke="#000" fill="none" shape-rendering="crispEdges"/><path d="M183.400 112L187.200 107.500" stroke="#505050" stroke-width="1"/>
<g shape-rendering="crispEdges"><path d="M195 114.500H211M197.500 109V120M201.500 109V120M205.500 109V120M209.500 109V120" stroke="#000" fill="none"/></g>
<path d="M218.0 109.5H234.0M219.5 107V112M223.5 107V112M227.5 107V112M231.5 107V112" stroke="#000" fill="none" shape-rendering="crispEdges"/>
<text x="223.8" y="122.4" font-family="Liberation Sans,sans-serif" font-size="12.5" font-weight="400" fill="#000" text-anchor="middle">n</text>
<text x="230.2" y="118.8" font-family="Liberation Sans,sans-serif" font-size="7.5" font-weight="400" fill="#000" text-anchor="middle">2</text>
<path d="M241.500 121.500L250 109L255.500 115L241.500 121.500" fill="none" stroke="#404040" stroke-width="1.1" />
<path d="M249.500 107V122.500M253.500 107V122.500" fill="none" stroke="#707070" stroke-width="1" />
<path d="M256.500 107V122.500" fill="none" stroke="#909090" stroke-width="0.8" />
<path d="M264 116.500H280M271.500 107V123" stroke="#ff0000" stroke-width="1.100" shape-rendering="crispEdges"/>
<path d="M279.800 112.600L275 108.400Q271.500 107.600 268.500 108.700Q265.800 110 265.400 112.600V117.100Q266 119.500 268.500 120.300H272.500Q274.500 119.500 274.800 117.100Q274.900 115.300 274.100 114.300Q273 113.300 271.600 113.200Q270 113.500 269.600 114.600Q269.500 116 270.200 116.600H272.200" fill="none" stroke="#000" stroke-width="1.1" />
<circle cx="294.500" cy="114.500" r="6.500" fill="none" stroke="#808080" stroke-width=".9"/><circle cx="294.500" cy="114.500" r="4.200" fill="none" stroke="#808080" stroke-width=".9"/>
<path d="M287 114.500H302M294.500 107V122" stroke="#ff0000" stroke-width="1" stroke-dasharray="1 1" shape-rendering="crispEdges"/><path d="M291.500 111.500L297.500 117.500M297.500 111.500L291.500 117.500" stroke="#008080" stroke-width="1.600"/><rect x="293.500" y="113.500" width="2" height="2" fill="#ff0000"/>
<rect x="288.9" y="108.8" width="1.300" height="1.300" fill="#008080"/>
<rect x="298.9" y="108.8" width="1.300" height="1.300" fill="#008080"/>
<rect x="288.9" y="118.8" width="1.300" height="1.300" fill="#008080"/>
<rect x="298.9" y="118.8" width="1.300" height="1.300" fill="#008080"/>
<g shape-rendering="crispEdges" fill="none"><rect x="311.500" y="108.500" width="12" height="12" stroke="#808080"/><rect x="313.500" y="110.500" width="8" height="8" stroke="#808080"/><rect x="315.500" y="112.500" width="4" height="4" stroke="#808080"/><path d="M310 114.500H325M317.500 107V122" stroke="#008080" stroke-dasharray="1 1"/>
<rect x="310" y="107" width="1" height="1" fill="#ff0000"/><rect x="310" y="121" width="1" height="1" fill="#ff0000"/>
<rect x="312" y="109" width="1" height="1" fill="#ff0000"/><rect x="312" y="119" width="1" height="1" fill="#ff0000"/>
<rect x="314" y="111" width="1" height="1" fill="#ff0000"/><rect x="314" y="117" width="1" height="1" fill="#ff0000"/>
<rect x="316" y="113" width="1" height="1" fill="#ff0000"/><rect x="316" y="115" width="1" height="1" fill="#ff0000"/>
<rect x="318" y="115" width="1" height="1" fill="#ff0000"/><rect x="318" y="113" width="1" height="1" fill="#ff0000"/>
<rect x="320" y="117" width="1" height="1" fill="#ff0000"/><rect x="320" y="111" width="1" height="1" fill="#ff0000"/>
<rect x="322" y="119" width="1" height="1" fill="#ff0000"/><rect x="322" y="109" width="1" height="1" fill="#ff0000"/>
<rect x="324" y="121" width="1" height="1" fill="#ff0000"/><rect x="324" y="107" width="1" height="1" fill="#ff0000"/>
<rect x="316.500" y="113.500" width="2" height="2" fill="#ff0000" stroke="none"/></g>
<path d="M334.500 108V122M334.500 118L341.500 109M341.500 108V122" fill="none" stroke="#000" stroke-width="1.1" />
<path d="M344.900 108.500V111M347.500 108.500V111" fill="none" stroke="#000" stroke-width="1" />
<path d="M356 110.500H372M357.500 107V113M359.500 107V111M364.500 107V111M371.500 107V114" stroke="#000" fill="none" shape-rendering="crispEdges"/>
<text x="364.2" y="121.8" font-family="Liberation Sans,Noto Sans CJK SC,sans-serif" font-size="10.2" font-weight="500" fill="#ff0000" text-anchor="middle">神</text>
<path d="M379 110.500H395M379.500 107V113M383.500 107V111M388.500 107V111M394.500 107V113" stroke="#000" fill="none" shape-rendering="crispEdges"/>
<text x="386.5" y="121.8" font-family="Liberation Sans,Noto Sans CJK SC,sans-serif" font-size="10.6" font-weight="500" fill="#ff0000" text-anchor="middle">赢</text>
<g shape-rendering="crispEdges"><path d="M403.500 108V121M402 121.500H406M403 108.500H417" stroke="#000" fill="none"/>
<rect x="405" y="109" width="1" height="7" fill="#000"/>
<rect x="407" y="109" width="1" height="4" fill="#000"/>
<rect x="409" y="109" width="1" height="7" fill="#000"/>
<rect x="411" y="109" width="1" height="4" fill="#000"/>
<rect x="413" y="109" width="1" height="7" fill="#000"/>
<rect x="415" y="109" width="1" height="4" fill="#000"/>
<rect x="417" y="109" width="1" height="7" fill="#000"/>
<path d="M404 117.500H417" stroke="#000" stroke-dasharray="1 1" fill="none"/></g>
<text x="411.7" y="122.0" font-family="Liberation Sans,sans-serif" font-size="5.5" font-weight="700" fill="#000" text-anchor="middle" textLength="10.5" lengthAdjust="spacingAndGlyphs">123</text>
<g shape-rendering="crispEdges"><path d="M425.500 109V119M439.500 109V119M432.500 107V123M426 113.500H439" stroke="#000" fill="none"/></g><polygon points="426,113.500 430,111.300 430,115.700" fill="#000"/><polygon points="439,113.500 435,111.300 435,115.700" fill="#000"/>
<g shape-rendering="crispEdges" fill="none"><rect x="464.500" y="108.500" width="8" height="9" stroke="#000" stroke-width="1"/><path d="M460.500 108.500V117.500M458.500 108.500H462.500M458.500 117.500H462.500M464 121.500H472.500M464.500 119.500V123M472.500 119.500V123" stroke="#909090"/></g>
<path d="M482.500 121.500L484.500 107.200" fill="none" stroke="#800000" stroke-width="1" />
<path d="M482.500 121.500L489.600 107.200" fill="none" stroke="#ff0000" stroke-width="1" />
<path d="M482.500 121.500L496.400 107.200" fill="none" stroke="#000" stroke-width="1" />
<path d="M482.500 121.500L496.700 114.300" fill="none" stroke="#ff0000" stroke-width="1" />
<path d="M482.500 121.500L496.700 119.400" fill="none" stroke="#800000" stroke-width="1" />
<rect x="481" y="120.500" width="2.500" height="2.500" fill="#800000"/>
<rect x="504.500" y="109.500" width="13" height="13" fill="none" stroke="#000" stroke-width="1.300" shape-rendering="crispEdges"/>
<path d="M504.500 122.500L508.600 107.200" fill="none" stroke="#800080" stroke-width="1.1" />
<path d="M504.500 122.500L513.700 107.200" fill="none" stroke="#800000" stroke-width="1" />
<path d="M504.500 122.500L518.700 107.800" fill="none" stroke="#ff0000" stroke-width="1.1" />
<path d="M504.500 122.500L519.900 113.500" fill="none" stroke="#800000" stroke-width="1" />
<path d="M504.500 122.500L519.900 118.300" fill="none" stroke="#800080" stroke-width="1.1" />
<rect x="527.500" y="107.500" width="13" height="13" fill="none" stroke="#000" stroke-width="1.300" shape-rendering="crispEdges"/>
<path d="M527.500 107.500L542.800 111.500" fill="none" stroke="#800080" stroke-width="1.1" />
<path d="M527.500 107.500L542.800 117.700" fill="none" stroke="#800000" stroke-width="1" />
<path d="M527.500 107.500L542.800 122.800" fill="none" stroke="#ff0000" stroke-width="1.1" />
<path d="M527.500 107.500L538.300 122.800" fill="none" stroke="#800000" stroke-width="1" />
<path d="M527.500 107.500L532.300 122.800" fill="none" stroke="#800080" stroke-width="1.1" />
<path d="M550.500 122.500L566 107.500M550.500 122.500L566 114.500M550.500 122.500L566 119" fill="none" stroke="#000" stroke-width="1.1" />
<polygon points="550,123 555,119.500 556,121.500" fill="#000"/>
<path d="M573.500 108.500L579.500 121L585 113L588 117.500" fill="none" stroke="#000" stroke-width="1.1" />
<path d="M573 121.500H588" fill="none" stroke="#808080" stroke-width="1" stroke-dasharray="1 1" shape-rendering="crispEdges"/>
<g shape-rendering="crispEdges"><rect x="596" y="107" width="15" height="15" fill="#808080"/>
<rect x="597" y="108" width="3" height="3" fill="#fff"/>
<rect x="597" y="112" width="3" height="2" fill="#fff"/>
<rect x="597" y="115" width="3" height="2" fill="#fff"/>
<rect x="597" y="118" width="3" height="3" fill="#fff"/>
<rect x="601" y="108" width="2" height="3" fill="#fff"/>
<rect x="601" y="112" width="2" height="2" fill="#fff"/>
<rect x="601" y="115" width="2" height="2" fill="#fff"/>
<rect x="601" y="118" width="2" height="3" fill="#fff"/>
<rect x="604" y="108" width="2" height="3" fill="#fff"/>
<rect x="604" y="112" width="2" height="2" fill="#fff"/>
<rect x="604" y="115" width="2" height="2" fill="#fff"/>
<rect x="604" y="118" width="2" height="3" fill="#fff"/>
<rect x="607" y="108" width="3" height="3" fill="#fff"/>
<rect x="607" y="112" width="3" height="2" fill="#fff"/>
<rect x="607" y="115" width="3" height="2" fill="#fff"/>
<rect x="607" y="118" width="3" height="3" fill="#fff"/>
<rect x="600" y="107" width="1" height="1" fill="#ff0000"/>
<rect x="600" y="111" width="1" height="1" fill="#ff0000"/>
<rect x="600" y="114" width="1" height="1" fill="#ff0000"/>
<rect x="600" y="117" width="1" height="1" fill="#ff0000"/>
<rect x="600" y="121" width="1" height="1" fill="#ff0000"/>
<rect x="603" y="107" width="1" height="1" fill="#ff0000"/>
<rect x="603" y="111" width="1" height="1" fill="#ff0000"/>
<rect x="603" y="114" width="1" height="1" fill="#ff0000"/>
<rect x="603" y="117" width="1" height="1" fill="#ff0000"/>
<rect x="603" y="121" width="1" height="1" fill="#ff0000"/>
<rect x="606" y="107" width="1" height="1" fill="#ff0000"/>
<rect x="606" y="111" width="1" height="1" fill="#ff0000"/>
<rect x="606" y="114" width="1" height="1" fill="#ff0000"/>
<rect x="606" y="117" width="1" height="1" fill="#ff0000"/>
<rect x="606" y="121" width="1" height="1" fill="#ff0000"/>
<rect x="610" y="107" width="1" height="1" fill="#ff0000"/>
<rect x="610" y="111" width="1" height="1" fill="#ff0000"/>
<rect x="610" y="114" width="1" height="1" fill="#ff0000"/>
<rect x="610" y="117" width="1" height="1" fill="#ff0000"/>
<rect x="610" y="121" width="1" height="1" fill="#ff0000"/>
<rect x="598" y="109" width="1" height="1" fill="#404040"/>
<rect x="608" y="109" width="1" height="1" fill="#404040"/>
<rect x="598" y="119" width="1" height="1" fill="#404040"/>
<rect x="608" y="119" width="1" height="1" fill="#404040"/>
</g>
<g shape-rendering="crispEdges"><rect x="619" y="107" width="15" height="15" fill="#808080"/>
<rect x="620" y="108" width="3" height="3" fill="#fff"/>
<rect x="620" y="112" width="3" height="2" fill="#fff"/>
<rect x="620" y="115" width="3" height="2" fill="#fff"/>
<rect x="620" y="118" width="3" height="3" fill="#fff"/>
<rect x="624" y="108" width="2" height="3" fill="#fff"/>
<rect x="624" y="112" width="2" height="2" fill="#fff"/>
<rect x="624" y="115" width="2" height="2" fill="#fff"/>
<rect x="624" y="118" width="2" height="3" fill="#fff"/>
<rect x="627" y="108" width="2" height="3" fill="#fff"/>
<rect x="627" y="112" width="2" height="2" fill="#fff"/>
<rect x="627" y="115" width="2" height="2" fill="#fff"/>
<rect x="627" y="118" width="2" height="3" fill="#fff"/>
<rect x="630" y="108" width="3" height="3" fill="#fff"/>
<rect x="630" y="112" width="3" height="2" fill="#fff"/>
<rect x="630" y="115" width="3" height="2" fill="#fff"/>
<rect x="630" y="118" width="3" height="3" fill="#fff"/>
<rect x="623" y="107" width="1" height="1" fill="#ff0000"/>
<rect x="623" y="111" width="1" height="1" fill="#ff0000"/>
<rect x="623" y="114" width="1" height="1" fill="#ff0000"/>
<rect x="623" y="117" width="1" height="1" fill="#ff0000"/>
<rect x="623" y="121" width="1" height="1" fill="#ff0000"/>
<rect x="626" y="107" width="1" height="1" fill="#ff0000"/>
<rect x="626" y="111" width="1" height="1" fill="#ff0000"/>
<rect x="626" y="114" width="1" height="1" fill="#ff0000"/>
<rect x="626" y="117" width="1" height="1" fill="#ff0000"/>
<rect x="626" y="121" width="1" height="1" fill="#ff0000"/>
<rect x="629" y="107" width="1" height="1" fill="#ff0000"/>
<rect x="629" y="111" width="1" height="1" fill="#ff0000"/>
<rect x="629" y="114" width="1" height="1" fill="#ff0000"/>
<rect x="629" y="117" width="1" height="1" fill="#ff0000"/>
<rect x="629" y="121" width="1" height="1" fill="#ff0000"/>
<rect x="633" y="107" width="1" height="1" fill="#ff0000"/>
<rect x="633" y="111" width="1" height="1" fill="#ff0000"/>
<rect x="633" y="114" width="1" height="1" fill="#ff0000"/>
<rect x="633" y="117" width="1" height="1" fill="#ff0000"/>
<rect x="633" y="121" width="1" height="1" fill="#ff0000"/>
<rect x="621" y="109" width="1" height="1" fill="#404040"/>
<rect x="631" y="109" width="1" height="1" fill="#404040"/>
<rect x="621" y="119" width="1" height="1" fill="#404040"/>
<rect x="631" y="119" width="1" height="1" fill="#404040"/>
</g>
<path d="M620 107.500V121.700H634" fill="none" stroke="#000" stroke-width="1.400"/><polygon points="618,109.700 620,106.600 622,109.700" fill="#000"/><polygon points="632,119.700 634.800,121.700 632,123.700" fill="#000"/>
<path d="M642.500 107V122M653.500 107V122" fill="none" stroke="#808080" stroke-width="1" shape-rendering="crispEdges"/>
<path d="M643 113.500L656.500 107.200M643 117.400L656.500 111.500M643 121.400L656.500 115.200" fill="none" stroke="#000" stroke-width="1.1" />
<g shape-rendering="crispEdges"><path d="M676.500 108V122M676 109.500H685M676 112.500H685M676 115.500H685M676 118.500H685M676 121.500H685M689.500 107V122" stroke="#000" fill="none"/><path d="M686 109.500H689M686 113.500H689M686 117.500H689M686 121.500H689" stroke="#000" stroke-dasharray="1 1" fill="none"/></g>
<path d="M698 107.500H714M698 122.500H703.500" stroke="#ff0000" stroke-width="1.200" shape-rendering="crispEdges"/>
<path d="M700.500 122L706.500 108L711 113L714 109.500" fill="none" stroke="#000" stroke-width="1" />
<text x="708.7" y="122.8" font-family="Liberation Sans,sans-serif" font-size="10.5" font-weight="400" fill="#ff0000" text-anchor="middle" textLength="9" lengthAdjust="spacingAndGlyphs">%</text>
<text x="728.5" y="121.5" font-family="Liberation Sans,sans-serif" font-size="15" font-weight="400" fill="#000" text-anchor="middle" textLength="13" lengthAdjust="spacingAndGlyphs">%</text>
<path d="M744 107.500H760M751 110.500H760M754 115.500H760M744 122.500H760" stroke="#000" stroke-width="1.100" shape-rendering="crispEdges"/>
<text x="748.5" y="121.2" font-family="Liberation Sans,sans-serif" font-size="10.5" font-weight="400" fill="#ff0000" text-anchor="middle" textLength="9" lengthAdjust="spacingAndGlyphs">%</text>
<circle cx="775.100" cy="114.900" r="7.700" fill="none" stroke="#909090" stroke-width="1"/>
<text x="775.0" y="119.3" font-family="Liberation Sans,Noto Sans CJK SC,sans-serif" font-size="10.5" font-weight="500" fill="#808000" text-anchor="middle">金</text>
<path d="M790 107.500H806M797 110.500H806M799 116.500H806M790 122.500H806" stroke="#000" stroke-width="1.100" shape-rendering="crispEdges"/>
<text x="794.4" y="120.5" font-family="Liberation Sans,Noto Sans CJK SC,sans-serif" font-size="9.8" font-weight="500" fill="#808000" text-anchor="middle">金</text>
<path d="M815.500 107V122M813 122.500H818M813 110.500H818M813 113.500H818M813 116.500H818" stroke="#000" fill="none" shape-rendering="crispEdges"/>
<g transform="translate(818.3,107.5) scale(0.74)"><polygon points="8.600,3.300 15.100,7.800 14.500,11.500 6.900,14 4,12.900 5.800,7.800" fill="#a0a0a0" stroke="#000" stroke-width="1"/><path d="M9 5.500L6.500 12.500M11 6.500L8.500 13M13 8.500L11 12.500" stroke="#e0e0e0" stroke-width=".8"/><path d="M8 5L5.500 12M10 6L7.500 12.800M12 7.500L10 12.800" stroke="#505050" stroke-width=".7"/><polygon points="10.300,0.500 14.800,1.600 15.100,7.800 8.600,3.300" fill="#ff0000"/><path d="M8.600 3.300L10.300 0.500M8.600 3.300L15.100 7.800" stroke="#000" stroke-width=".9" fill="none"/><polygon points="4,12.900 8,12.900 3.500,15.200" fill="#ff0000"/><path d="M0.100 12.600L3.500 16L8 13.500" fill="none" stroke="#000" stroke-width="1"/></g>
<path d="M836 107.500H852M836 122.500H852" stroke="#ff0000" stroke-width="1.200" shape-rendering="crispEdges"/><path d="M836.300 120Q839 104 841.500 112Q844 126 846.800 117Q849.500 105 851.500 109" fill="none" stroke="#808080" stroke-width="1"/><path d="M836 114.500H852" stroke="#000" stroke-width="1" shape-rendering="crispEdges"/>
<path d="M859 107.500H875M859 122.500H875" stroke="#ff0000" stroke-width="1.200" shape-rendering="crispEdges"/>
<text x="866.6" y="119.3" font-family="Liberation Sans,Noto Sans CJK SC,sans-serif" font-size="10.5" font-weight="500" fill="#808000" text-anchor="middle">金</text>
<path d="M882.0 122.800L897.8 107.200" fill="none" stroke="#000" stroke-width="1.1" />
<path d="M890.7 114.500H897.0M887.0 118.500H897.0M883.7 121.500H897.0" stroke="#000" stroke-width="1" fill="none" shape-rendering="crispEdges"/>
<text x="884.7" y="116.0" font-family="Liberation Sans,sans-serif" font-size="12.5" font-weight="400" fill="#ff0000" text-anchor="middle">J</text>
<path d="M905.0 122.800L920.8 107.200" fill="none" stroke="#000" stroke-width="1.1" />
<path d="M913.7 114.500H920.0M910.0 118.500H920.0M906.7 121.500H920.0" stroke="#000" stroke-width="1" fill="none" shape-rendering="crispEdges"/>
<text x="907.7" y="116.0" font-family="Liberation Sans,sans-serif" font-size="12.5" font-weight="700" fill="#ff0000" text-anchor="middle">F</text>
<path d="M928.0 122.800L943.8 107.200" fill="none" stroke="#000" stroke-width="1.1" />
<path d="M936.7 114.500H943.0M933.0 118.500H943.0M929.7 121.500H943.0" stroke="#000" stroke-width="1" fill="none" shape-rendering="crispEdges"/>
<text x="932.5" y="116.0" font-family="Liberation Sans,Noto Sans CJK SC,sans-serif" font-size="9.8" font-weight="500" fill="#808000" text-anchor="middle">金</text>
<path d="M951.0 122.800L966.8 107.200" fill="none" stroke="#000" stroke-width="1.1" />
<path d="M959.7 114.500H966.0M956.0 118.500H966.0M952.7 121.500H966.0" stroke="#000" stroke-width="1" fill="none" shape-rendering="crispEdges"/>
<text x="956.5" y="117.2" font-family="Liberation Sans,Noto Sans CJK SC,sans-serif" font-size="11.5" font-weight="500" fill="#ff0000" text-anchor="middle">神</text>
<path d="M974.0 122.800L989.8 107.200" fill="none" stroke="#000" stroke-width="1.1" />
<path d="M982.7 114.500H989.0M979.0 118.500H989.0M975.7 121.500H989.0" stroke="#000" stroke-width="1" fill="none" shape-rendering="crispEdges"/>
<text x="980.0" y="117.5" font-family="Liberation Sans,Noto Sans CJK SC,sans-serif" font-size="12" font-weight="500" fill="#ff0000" text-anchor="middle">赢</text>
<path d="M997.0 122.800L1012.8 107.200" fill="none" stroke="#000" stroke-width="1.1" />
<path d="M1005.7 114.500H1012.0M1002.0 118.500H1012.0M998.7 121.500H1012.0" stroke="#000" stroke-width="1" fill="none" shape-rendering="crispEdges"/>
<text x="1001.5" y="116.0" font-family="Liberation Sans,Noto Sans CJK SC,sans-serif" font-size="9.8" font-weight="500" fill="#ff0000" text-anchor="middle">四</text>
</svg>
</body></html>
